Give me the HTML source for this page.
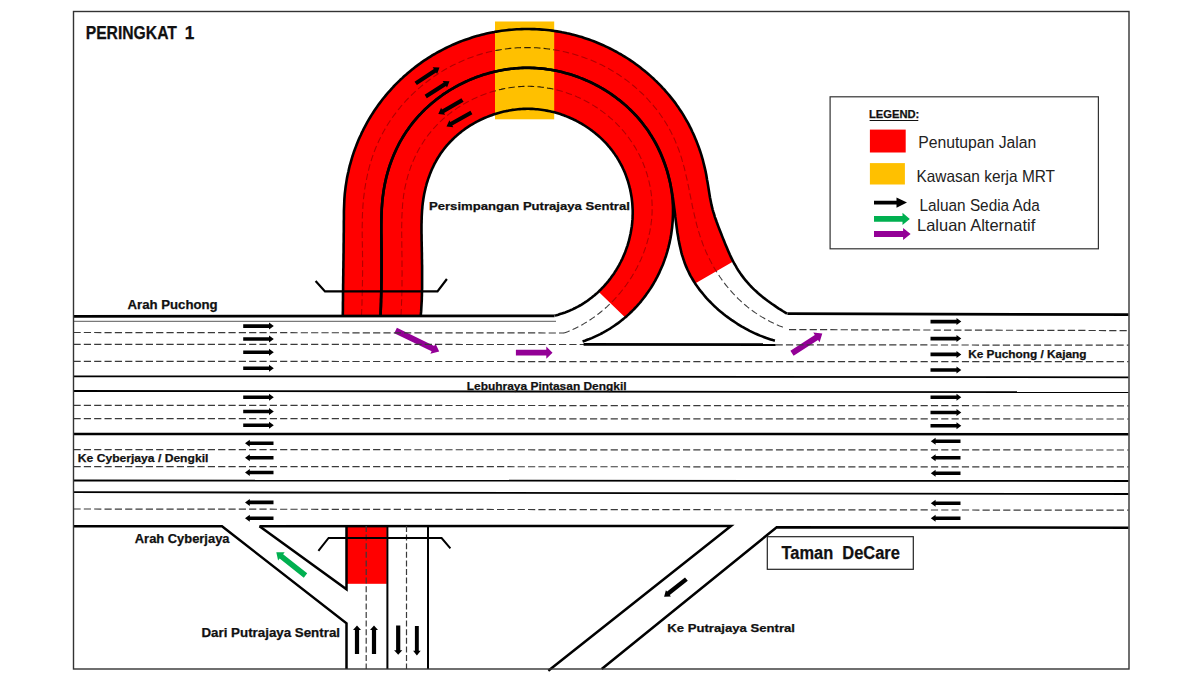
<!DOCTYPE html>
<html><head><meta charset="utf-8"><style>
html,body{margin:0;padding:0;background:#fff;overflow:hidden;width:1200px;height:675px;}
svg{display:block;font-family:"Liberation Sans",sans-serif;}
</style></head><body>
<svg width="1200" height="675" viewBox="0 0 1200 675">
<rect x="0" y="0" width="1200" height="675" fill="#fff"/>
<defs><clipPath id="rc"><path d="M342.8,315.5 L342.8,313 L342.9,310.4 L342.9,307.9 L342.9,305.3 L342.9,302.8 L343,300.3 L343,297.7 L343,295.2 L343,292.7 L343.1,290.1 L343.1,287.6 L343.1,285 L343.2,282.5 L343.2,280 L343.2,277.4 L343.3,274.9 L343.3,272.4 L343.3,269.8 L343.4,267.3 L343.4,264.7 L343.4,262.2 L343.5,259.7 L343.5,257.1 L343.5,254.6 L343.6,252.1 L343.6,249.5 L343.6,247 L343.6,244.4 L343.7,241.9 L343.7,239.4 L343.7,236.8 L343.7,234.3 L343.8,231.8 L343.8,229.2 L343.8,226.7 L343.8,224.1 L343.8,221.6 L343.9,219.1 L343.9,216.5 L343.9,214 L343.9,211.4 L344,208.9 L344.1,206.4 L344.2,203.8 L344.3,201.3 L344.4,198.8 L344.6,196.2 L344.8,193.7 L345.1,191.2 L345.4,188.7 L345.7,186.2 L346.1,183.6 L346.5,181.1 L346.9,178.6 L347.4,176.1 L347.9,173.7 L348.5,171.2 L349,168.7 L349.6,166.2 L350.3,163.8 L351,161.3 L351.7,158.9 L352.4,156.5 L353.2,154.1 L354,151.7 L354.9,149.3 L355.8,146.9 L356.7,144.5 L357.6,142.2 L358.6,139.8 L359.6,137.5 L360.7,135.2 L361.7,132.9 L362.9,130.6 L364,128.3 L365.2,126.1 L366.4,123.9 L367.6,121.6 L368.9,119.4 L370.2,117.3 L371.5,115.1 L372.9,113 L374.3,110.8 L375.7,108.7 L377.1,106.7 L378.6,104.6 L380.1,102.6 L381.7,100.5 L383.2,98.5 L384.8,96.6 L386.4,94.6 L388.1,92.7 L389.8,90.8 L391.5,88.9 L393.2,87 L394.9,85.2 L396.7,83.4 L398.5,81.6 L400.3,79.8 L402.2,78.1 L404.1,76.3 L406,74.7 L407.9,73 L409.8,71.4 L411.8,69.8 L413.8,68.2 L415.8,66.6 L417.8,65.1 L419.9,63.6 L421.9,62.1 L424,60.7 L426.1,59.3 L428.3,57.9 L430.4,56.6 L432.6,55.2 L434.8,54 L437,52.7 L439.2,51.5 L441.4,50.3 L443.7,49.1 L445.9,48 L448.2,46.9 L450.5,45.8 L452.8,44.7 L455.2,43.7 L457.5,42.8 L459.9,41.8 L462.2,40.9 L464.6,40 L467,39.2 L469.4,38.4 L471.8,37.6 L474.2,36.8 L476.7,36.1 L479.1,35.4 L481.6,34.8 L484,34.2 L486.5,33.6 L489,33 L491.5,32.5 L494,32.1 L496.5,31.6 L499,31.2 L501.5,30.8 L504,30.5 L506.5,30.2 L509,29.9 L511.6,29.7 L514.1,29.5 L516.6,29.3 L519.2,29.2 L521.7,29.1 L524.3,29 L526.8,29 L529.3,29 L531.9,29.1 L534.4,29.1 L536.9,29.2 L539.5,29.4 L542,29.6 L544.5,29.8 L547.1,30 L549.6,30.3 L552.1,30.6 L554.6,31 L557.1,31.4 L559.6,31.8 L562.1,32.3 L564.6,32.7 L567.1,33.3 L569.6,33.8 L572,34.4 L574.5,35.1 L577,35.7 L579.4,36.4 L581.8,37.1 L584.2,37.9 L586.6,38.7 L589,39.5 L591.4,40.4 L593.8,41.3 L596.2,42.2 L598.5,43.2 L600.8,44.2 L603.2,45.2 L605.5,46.3 L607.8,47.4 L610,48.5 L612.3,49.6 L614.5,50.8 L616.8,52 L619,53.3 L621.2,54.5 L623.3,55.8 L625.5,57.2 L627.7,58.5 L629.8,59.9 L631.9,61.3 L634,62.8 L636,64.3 L638.1,65.8 L640.1,67.3 L642.1,68.9 L644.1,70.5 L646,72.1 L648,73.7 L649.9,75.4 L651.8,77.1 L653.7,78.8 L655.5,80.6 L657.3,82.3 L659.1,84.1 L660.9,85.9 L662.6,87.8 L664.4,89.7 L666,91.6 L667.7,93.5 L669.3,95.4 L670.9,97.4 L672.5,99.4 L674.1,101.4 L675.6,103.4 L677,105.5 L678.5,107.6 L679.9,109.7 L681.3,111.8 L682.7,113.9 L684,116.1 L685.3,118.3 L686.5,120.5 L687.8,122.7 L689,124.9 L690.1,127.2 L691.3,129.4 L692.3,131.7 L693.4,134 L694.4,136.3 L695.4,138.7 L696.4,141 L697.3,143.4 L698.2,145.7 L699.1,148.1 L699.9,150.5 L700.7,152.9 L701.5,155.3 L702.2,157.8 L702.9,160.2 L703.5,162.7 L704.1,165.1 L704.7,167.6 L705.3,170.1 L705.8,172.5 L706.3,175 L706.7,177.5 L707.1,180 L707.6,182.5 L708,185 L708.4,187.5 L708.8,190 L709.2,192.5 L709.6,195 L710,197.5 L710.5,200 L711,202.5 L711.5,204.9 L712.1,207.4 L712.7,209.8 L713.4,212.2 L714.2,214.7 L714.9,217.1 L715.8,219.5 L716.6,221.8 L717.5,224.2 L718.4,226.6 L719.3,229 L720.2,231.3 L721.2,233.7 L722.1,236.1 L723,238.4 L724,240.8 L724.9,243.1 L725.9,245.5 L726.9,247.8 L727.9,250.2 L728.9,252.5 L729.9,254.8 L731,257.1 L732.1,259.3 L733.2,261.5 L695.1,283.4 L693.9,281.5 L692.7,279.5 L691.6,277.6 L690.4,275.6 L689.4,273.6 L688.4,271.5 L687.4,269.5 L686.5,267.4 L685.6,265.4 L684.8,263.3 L684.1,261.2 L683.4,259.1 L682.7,256.9 L682,254.8 L681.4,252.6 L680.9,250.5 L680.4,248.3 L679.9,246.1 L679.4,243.9 L679,241.7 L678.5,239.5 L678.2,237.2 L677.8,235 L677.4,232.7 L677.1,230.5 L676.8,228.2 L676.5,226 L676.2,223.7 L675.9,221.4 L675.6,219.2 L675.3,216.9 L675.1,214.6 L674.8,212.3 L674.5,210 L674.2,207.8 L673.9,205.5 L673.6,203.2 L673.3,200.9 L673,198.6 L672.6,196.4 L672.3,194.1 L671.9,191.8 L671.5,189.5 L671,187.3 L670.6,185 L670.1,182.8 L669.6,180.5 L669,178.3 L668.4,176 L667.8,173.8 L667.2,171.6 L666.5,169.4 L665.8,167.2 L665,165 L664.2,162.8 L663.4,160.7 L662.6,158.5 L661.7,156.4 L660.8,154.3 L659.9,152.2 L658.9,150.1 L657.9,148 L656.9,145.9 L655.8,143.9 L654.7,141.9 L653.6,139.9 L652.4,137.9 L651.2,135.9 L650,134 L648.8,132 L647.5,130.1 L646.2,128.2 L644.8,126.4 L643.5,124.5 L642.1,122.7 L640.6,120.9 L639.2,119.2 L637.7,117.4 L636.2,115.7 L634.6,114 L633,112.4 L631.4,110.7 L629.8,109.1 L628.1,107.6 L626.5,106 L624.7,104.5 L623,103 L621.2,101.5 L619.5,100.1 L617.6,98.7 L615.8,97.3 L614,96 L612.1,94.6 L610.2,93.3 L608.3,92.1 L606.3,90.8 L604.4,89.6 L602.4,88.5 L600.4,87.3 L598.4,86.2 L596.3,85.1 L594.3,84.1 L592.2,83 L590.1,82 L588.1,81.1 L585.9,80.2 L583.8,79.3 L581.7,78.4 L579.5,77.6 L577.4,76.8 L575.2,76 L573,75.3 L570.8,74.6 L568.6,73.9 L566.4,73.3 L564.1,72.7 L561.9,72.1 L559.7,71.6 L557.4,71.1 L555.2,70.6 L552.9,70.2 L550.6,69.8 L548.3,69.5 L546.1,69.1 L543.8,68.8 L541.5,68.6 L539.2,68.4 L536.9,68.2 L534.6,68.1 L532.3,68 L530,67.9 L527.7,67.9 L525.4,67.9 L523.1,67.9 L520.8,68 L518.5,68.1 L516.2,68.3 L513.9,68.5 L511.6,68.7 L509.4,69 L507.1,69.3 L504.8,69.6 L502.5,70 L500.3,70.4 L498,70.9 L495.8,71.4 L493.5,71.9 L491.3,72.4 L489.1,73 L486.8,73.7 L484.6,74.3 L482.4,75 L480.3,75.8 L478.1,76.5 L475.9,77.3 L473.8,78.2 L471.6,79 L469.5,79.9 L467.4,80.9 L465.3,81.8 L463.2,82.8 L461.2,83.8 L459.1,84.9 L457.1,86 L455.1,87.1 L453.1,88.3 L451.1,89.4 L449.1,90.6 L447.2,91.9 L445.2,93.1 L443.3,94.4 L441.5,95.8 L439.6,97.1 L437.8,98.5 L435.9,99.9 L434.1,101.4 L432.4,102.8 L430.6,104.3 L428.9,105.8 L427.2,107.4 L425.5,108.9 L423.9,110.5 L422.3,112.2 L420.7,113.8 L419.1,115.5 L417.6,117.2 L416.1,118.9 L414.6,120.7 L413.1,122.4 L411.7,124.2 L410.3,126 L408.9,127.9 L407.6,129.8 L406.3,131.6 L405.1,133.6 L403.8,135.5 L402.6,137.4 L401.5,139.4 L400.3,141.4 L399.2,143.4 L398.2,145.5 L397.2,147.5 L396.2,149.6 L395.2,151.7 L394.3,153.8 L393.4,155.9 L392.5,158 L391.7,160.2 L390.9,162.4 L390.1,164.5 L389.4,166.7 L388.7,168.9 L388,171.1 L387.4,173.4 L386.8,175.6 L386.2,177.8 L385.7,180.1 L385.2,182.3 L384.7,184.6 L384.3,186.8 L383.9,189.1 L383.5,191.4 L383.2,193.7 L382.9,195.9 L382.6,198.2 L382.4,200.5 L382.2,202.8 L382,205.1 L381.8,207.4 L381.7,209.7 L381.6,212 L381.5,214.3 L381.4,216.6 L381.4,218.9 L381.3,221.2 L381.3,223.5 L381.3,225.8 L381.3,228.1 L381.3,230.4 L381.3,232.7 L381.4,235 L381.4,237.3 L381.4,239.6 L381.5,241.9 L381.5,244.2 L381.5,246.5 L381.6,248.8 L381.6,251.1 L381.6,253.4 L381.6,255.7 L381.6,258 L381.6,260.3 L381.6,262.6 L381.6,264.9 L381.6,267.2 L381.6,269.5 L381.5,271.8 L381.5,274.1 L381.5,276.4 L381.5,278.7 L381.4,281 L381.4,283.3 L381.3,285.6 L381.3,287.9 L381.3,290.2 L381.2,292.5 L381.1,294.8 L381.1,297.1 L381,299.4 L381,301.7 L380.9,304 L380.9,306.3 L380.8,308.6 L380.7,310.9 L380.7,313.2 L380.6,315.5 Z"/><path d="M380.5,315.5 L380.6,313.2 L380.7,310.9 L380.8,308.7 L380.9,306.4 L381,304.1 L381.1,301.8 L381.1,299.5 L381.2,297.3 L381.3,295 L381.3,292.7 L381.3,290.4 L381.4,288.2 L381.4,285.9 L381.4,283.6 L381.5,281.3 L381.5,279.1 L381.5,276.8 L381.5,274.5 L381.5,272.2 L381.5,269.9 L381.5,267.7 L381.5,265.4 L381.5,263.1 L381.5,260.8 L381.5,258.5 L381.5,256.3 L381.5,254 L381.5,251.7 L381.4,249.4 L381.4,247.1 L381.4,244.9 L381.4,242.6 L381.4,240.3 L381.4,238 L381.3,235.7 L381.3,233.5 L381.3,231.2 L381.3,228.9 L381.3,226.6 L381.3,224.3 L381.4,222 L381.4,219.8 L381.5,217.5 L381.5,215.2 L381.6,212.9 L381.7,210.7 L381.8,208.4 L382,206.1 L382.1,203.8 L382.3,201.6 L382.5,199.3 L382.8,197.1 L383.1,194.8 L383.4,192.5 L383.7,190.3 L384.1,188 L384.5,185.8 L384.9,183.6 L385.4,181.3 L385.9,179.1 L386.4,176.9 L387,174.7 L387.6,172.5 L388.3,170.3 L388.9,168.1 L389.6,165.9 L390.4,163.8 L391.1,161.6 L391.9,159.5 L392.8,157.4 L393.6,155.3 L394.5,153.2 L395.5,151.1 L396.4,149 L397.4,147 L398.5,144.9 L399.5,142.9 L400.6,140.9 L401.8,138.9 L402.9,137 L404.1,135 L405.3,133.1 L406.6,131.2 L407.9,129.4 L409.2,127.5 L410.5,125.7 L411.9,123.9 L413.3,122.1 L414.7,120.3 L416.2,118.6 L417.7,116.9 L419.2,115.2 L420.8,113.6 L422.4,111.9 L424,110.3 L425.6,108.8 L427.3,107.2 L429,105.7 L430.7,104.2 L432.4,102.7 L434.2,101.3 L436,99.8 L437.8,98.4 L439.6,97.1 L441.4,95.7 L443.3,94.4 L445.2,93.2 L447.1,91.9 L449,90.7 L451,89.5 L452.9,88.3 L454.9,87.2 L456.9,86.1 L458.9,85 L461,84 L463,83 L465.1,82 L467.2,81 L469.3,80.1 L471.4,79.2 L473.5,78.4 L475.6,77.5 L477.8,76.7 L479.9,76 L482.1,75.2 L484.3,74.6 L486.5,73.9 L488.7,73.3 L490.9,72.7 L493.1,72.1 L495.3,71.6 L497.5,71.1 L499.8,70.6 L502,70.2 L504.3,69.8 L506.5,69.4 L508.8,69.1 L511,68.8 L513.3,68.6 L515.6,68.3 L517.8,68.2 L520.1,68 L522.4,67.9 L524.6,67.8 L526.9,67.8 L529.2,67.8 L531.5,67.9 L533.7,67.9 L536,68 L538.3,68.2 L540.5,68.4 L542.8,68.6 L545.1,68.9 L547.3,69.2 L549.6,69.5 L551.8,69.9 L554,70.3 L556.3,70.7 L558.5,71.2 L560.7,71.7 L562.9,72.3 L565.1,72.9 L567.3,73.5 L569.5,74.1 L571.7,74.8 L573.8,75.5 L576,76.3 L578.1,77 L580.3,77.9 L582.4,78.7 L584.5,79.6 L586.6,80.5 L588.6,81.4 L590.7,82.4 L592.8,83.4 L594.8,84.4 L596.8,85.5 L598.8,86.6 L600.8,87.7 L602.8,88.9 L604.7,90 L606.6,91.2 L608.6,92.5 L610.5,93.8 L612.3,95.1 L614.2,96.4 L616,97.7 L617.8,99.1 L619.6,100.5 L621.4,101.9 L623.2,103.4 L624.9,104.9 L626.6,106.4 L628.3,107.9 L629.9,109.5 L631.5,111.1 L633.2,112.7 L634.7,114.3 L636.3,116 L637.8,117.7 L639.3,119.4 L640.8,121.1 L642.2,122.9 L643.6,124.7 L645,126.5 L646.4,128.3 L647.7,130.1 L649,132 L650.2,133.9 L651.5,135.8 L652.7,137.8 L653.8,139.7 L655,141.7 L656.1,143.7 L657.1,145.7 L658.2,147.7 L659.2,149.8 L660.1,151.9 L661.1,154 L661.9,156.1 L662.8,158.2 L663.6,160.3 L664.4,162.5 L665.2,164.6 L665.9,166.8 L666.6,169 L667.3,171.2 L667.9,173.4 L668.5,175.6 L669,177.8 L669.5,180 L670,182.3 L670.5,184.5 L670.9,186.8 L671.2,189 L671.6,191.3 L671.9,193.6 L672.2,195.8 L672.4,198.1 L672.6,200.4 L672.7,202.7 L672.9,204.9 L673,207.2 L673,209.5 L673,211.8 L673,214 L672.9,216.3 L672.8,218.6 L672.7,220.8 L672.5,223.1 L672.3,225.3 L672.1,227.6 L671.8,229.8 L671.5,232.1 L671.2,234.3 L670.8,236.5 L670.4,238.8 L669.9,241 L669.5,243.2 L668.9,245.4 L668.4,247.6 L667.8,249.7 L667.2,251.9 L666.5,254.1 L665.9,256.2 L665.1,258.3 L664.4,260.4 L663.6,262.6 L662.8,264.7 L661.9,266.7 L661,268.8 L660.1,270.8 L659.2,272.9 L658.2,274.9 L657.2,276.9 L656.1,278.9 L655.1,280.9 L653.9,282.8 L652.8,284.8 L651.6,286.7 L650.4,288.6 L649.2,290.4 L647.9,292.3 L646.6,294.1 L645.3,295.9 L643.9,297.7 L642.5,299.5 L641.1,301.3 L639.7,303 L638.2,304.7 L636.7,306.4 L635.1,308 L633.6,309.6 L632,311.2 L630.3,312.8 L628.7,314.4 L627,315.9 L625.2,317.4 L598.6,291.7 L599.8,290.4 L601.1,289.2 L602.3,287.9 L603.6,286.6 L604.7,285.3 L605.9,284 L607.1,282.6 L608.2,281.3 L609.3,279.9 L610.4,278.5 L611.4,277.1 L612.5,275.6 L613.5,274.2 L614.5,272.7 L615.4,271.2 L616.4,269.7 L617.3,268.2 L618.2,266.6 L619.1,265.1 L619.9,263.5 L620.7,262 L621.5,260.4 L622.3,258.8 L623,257.2 L623.7,255.5 L624.4,253.9 L625.1,252.2 L625.7,250.6 L626.3,248.9 L626.9,247.2 L627.5,245.6 L628,243.9 L628.5,242.2 L629,240.4 L629.4,238.7 L629.8,237 L630.2,235.3 L630.6,233.5 L630.9,231.8 L631.2,230 L631.5,228.3 L631.8,226.5 L632,224.7 L632.2,223 L632.3,221.2 L632.5,219.4 L632.6,217.6 L632.6,215.9 L632.7,214.1 L632.7,212.3 L632.7,210.5 L632.6,208.7 L632.5,206.9 L632.4,205.1 L632.3,203.4 L632.1,201.6 L631.9,199.8 L631.7,198 L631.4,196.2 L631.1,194.5 L630.8,192.7 L630.4,190.9 L630.1,189.2 L629.6,187.4 L629.2,185.7 L628.7,184 L628.2,182.2 L627.7,180.5 L627.1,178.8 L626.5,177.1 L625.9,175.4 L625.3,173.8 L624.6,172.1 L623.9,170.5 L623.1,168.8 L622.4,167.2 L621.6,165.6 L620.7,164 L619.9,162.5 L619,160.9 L618.1,159.4 L617.2,157.8 L616.2,156.3 L615.2,154.9 L614.2,153.4 L613.2,152 L612.1,150.5 L611,149.1 L609.9,147.7 L608.7,146.4 L607.6,145 L606.4,143.7 L605.2,142.4 L603.9,141.1 L602.7,139.9 L601.4,138.6 L600.1,137.4 L598.8,136.2 L597.4,135 L596.1,133.9 L594.7,132.8 L593.3,131.7 L591.9,130.6 L590.4,129.5 L589,128.5 L587.5,127.5 L586,126.5 L584.5,125.5 L583,124.6 L581.5,123.7 L579.9,122.8 L578.3,121.9 L576.8,121.1 L575.2,120.2 L573.6,119.5 L572,118.7 L570.3,118 L568.7,117.3 L567,116.6 L565.4,115.9 L563.7,115.3 L562,114.7 L560.3,114.1 L558.6,113.6 L556.9,113.1 L555.2,112.6 L553.5,112.1 L551.7,111.7 L550,111.3 L548.2,110.9 L546.5,110.6 L544.7,110.3 L542.9,110 L541.2,109.7 L539.4,109.5 L537.6,109.3 L535.8,109.2 L534.1,109 L532.3,108.9 L530.5,108.9 L528.7,108.8 L526.9,108.8 L525.1,108.9 L523.3,108.9 L521.5,109 L519.8,109.1 L518,109.3 L516.2,109.5 L514.4,109.7 L512.6,109.9 L510.9,110.2 L509.1,110.5 L507.3,110.9 L505.6,111.2 L503.8,111.6 L502.1,112 L500.3,112.5 L498.6,113 L496.8,113.5 L495.1,114 L493.4,114.6 L491.7,115.2 L490,115.8 L488.3,116.4 L486.7,117.1 L485,117.8 L483.4,118.5 L481.7,119.3 L480.1,120 L478.5,120.8 L476.9,121.7 L475.3,122.5 L473.8,123.4 L472.2,124.3 L470.7,125.2 L469.2,126.2 L467.7,127.2 L466.2,128.2 L464.7,129.2 L463.3,130.3 L461.9,131.3 L460.5,132.4 L459.1,133.6 L457.7,134.7 L456.4,135.9 L455,137.1 L453.7,138.3 L452.5,139.5 L451.2,140.8 L450,142 L448.8,143.3 L447.6,144.7 L446.4,146 L445.3,147.4 L444.2,148.8 L443.1,150.2 L442.1,151.6 L441,153 L440,154.5 L439.1,156 L438.1,157.5 L437.2,159 L436.3,160.6 L435.5,162.1 L434.6,163.7 L433.8,165.3 L433.1,166.9 L432.3,168.5 L431.6,170.1 L430.9,171.7 L430.2,173.4 L429.6,175.1 L429,176.7 L428.4,178.4 L427.8,180.1 L427.3,181.8 L426.7,183.5 L426.3,185.3 L425.8,187 L425.4,188.7 L425,190.5 L424.6,192.2 L424.2,194 L423.9,195.8 L423.6,197.5 L423.3,199.3 L423.1,201.1 L422.8,202.8 L422.6,204.6 L422.4,206.4 L422.3,208.2 L422.1,210 L422,211.7 L421.9,213.5 L421.8,215.3 L421.7,217.1 L421.7,218.9 L421.6,220.7 L421.6,222.5 L421.5,224.3 L421.5,226.1 L421.5,227.9 L421.5,229.7 L421.5,231.5 L421.5,233.3 L421.6,235.1 L421.6,236.9 L421.6,238.7 L421.6,240.5 L421.7,242.3 L421.7,244.1 L421.7,245.8 L421.8,247.6 L421.8,249.4 L421.8,251.2 L421.9,253 L421.9,254.8 L421.9,256.6 L421.9,258.4 L422,260.1 L422,261.9 L422,263.7 L422.1,265.5 L422.1,267.3 L422.1,269.1 L422.1,270.9 L422.1,272.6 L422.1,274.4 L422.1,276.2 L422.1,278 L422.1,279.8 L422.1,281.5 L422.1,283.3 L422.1,285.1 L422.1,286.9 L422.1,288.7 L422,290.5 L422,292.2 L421.9,294 L421.9,295.8 L421.8,297.6 L421.8,299.4 L421.7,301.2 L421.6,303 L421.5,304.7 L421.4,306.5 L421.3,308.3 L421.2,310.1 L421.1,311.9 L420.9,313.7 L420.8,315.5 Z"/></clipPath><clipPath id="oc"><rect x="495" y="21.5" width="59.2" height="97.8"/></clipPath></defs>
<path d="M361.5,315.5 L361.6,313.1 L361.7,310.6 L361.8,308.2 L361.9,305.8 L362,303.4 L362,300.9 L362.1,298.5 L362.2,296.1 L362.2,293.7 L362.3,291.2 L362.3,288.8 L362.4,286.4 L362.4,283.9 L362.5,281.5 L362.5,279.1 L362.5,276.7 L362.6,274.2 L362.6,271.8 L362.6,269.4 L362.6,267 L362.6,264.5 L362.6,262.1 L362.6,259.7 L362.6,257.3 L362.5,254.8 L362.5,252.4 L362.5,250 L362.4,247.6 L362.4,245.1 L362.3,242.7 L362.3,240.3 L362.3,237.8 L362.2,235.4 L362.2,233 L362.2,230.6 L362.2,228.1 L362.2,225.7 L362.3,223.3 L362.3,220.9 L362.3,218.4 L362.4,216 L362.5,213.6 L362.6,211.2 L362.8,208.7 L362.9,206.3 L363.1,203.9 L363.3,201.5 L363.5,199 L363.8,196.6 L364.1,194.2 L364.4,191.8 L364.7,189.4 L365.1,187 L365.5,184.6 L365.9,182.2 L366.4,179.8 L366.9,177.4 L367.4,175 L367.9,172.7 L368.5,170.3 L369.1,167.9 L369.7,165.6 L370.4,163.3 L371.1,161 L371.8,158.6 L372.6,156.4 L373.4,154.1 L374.2,151.8 L375.1,149.5 L376,147.3 L376.9,145.1 L377.9,142.9 L378.9,140.7 L380,138.5 L381,136.3 L382.1,134.2 L383.3,132.1 L384.5,129.9 L385.7,127.9 L386.9,125.8 L388.2,123.7 L389.5,121.7 L390.9,119.7 L392.2,117.7 L393.7,115.7 L395.1,113.8 L396.6,111.9 L398.1,109.9 L399.6,108.1 L401.1,106.2 L402.7,104.4 L404.3,102.5 L406,100.7 L407.6,99 L409.3,97.2 L411.1,95.5 L412.8,93.8 L414.6,92.1 L416.4,90.5 L418.2,88.9 L420,87.3 L421.9,85.7 L423.8,84.2 L425.7,82.7 L427.6,81.2 L429.6,79.7 L431.5,78.3 L433.5,76.9 L435.5,75.5 L437.6,74.2 L439.6,72.8 L441.7,71.6 L443.8,70.3 L445.9,69.1 L448,67.9 L450.2,66.7 L452.3,65.6 L454.5,64.5 L456.7,63.4 L458.9,62.4 L461.1,61.4 L463.3,60.4 L465.6,59.5 L467.8,58.6 L470.1,57.7 L472.4,56.9 L474.7,56.1 L477,55.3 L479.3,54.6 L481.6,53.9 L483.9,53.2 L486.3,52.6 L488.6,52 L491,51.5 L493.3,51 L495.7,50.5 L498.1,50.1 L500.5,49.7 L502.9,49.3 L505.3,49 L507.7,48.7 L510.1,48.4 L512.5,48.2 L514.9,48 L517.3,47.8 L519.7,47.7 L522.1,47.6 L524.6,47.6 L527,47.6 L529.4,47.6 L531.8,47.6 L534.3,47.7 L536.7,47.8 L539.1,48 L541.5,48.2 L543.9,48.4 L546.3,48.7 L548.7,49 L551.1,49.3 L553.5,49.7 L555.9,50.1 L558.3,50.5 L560.7,51 L563.1,51.5 L565.4,52 L567.8,52.6 L570.1,53.2 L572.5,53.8 L574.8,54.5 L577.1,55.2 L579.4,55.9 L581.7,56.7 L584,57.5 L586.3,58.4 L588.6,59.2 L590.8,60.1 L593.1,61.1 L595.3,62 L597.5,63 L599.7,64.1 L601.9,65.1 L604.1,66.2 L606.2,67.4 L608.4,68.5 L610.5,69.7 L612.6,71 L614.7,72.2 L616.7,73.5 L618.8,74.8 L620.8,76.2 L622.8,77.6 L624.8,79 L626.7,80.4 L628.7,81.9 L630.6,83.4 L632.5,85 L634.4,86.5 L636.2,88.1 L638,89.7 L639.8,91.4 L641.6,93 L643.4,94.7 L645.1,96.5 L646.8,98.2 L648.4,100 L650,101.8 L651.6,103.6 L653.2,105.4 L654.8,107.3 L656.3,109.2 L657.7,111.1 L659.2,113 L660.6,115 L662,117 L663.3,119 L664.6,121 L665.9,123 L667.1,125.1 L668.3,127.1 L669.5,129.2 L670.6,131.3 L671.7,133.5 L672.8,135.6 L673.8,137.8 L674.8,139.9 L675.7,142.1 L676.6,144.3 L677.5,146.6 L678.4,148.8 L679.2,151 L680,153.3 L680.7,155.6 L681.5,157.9 L682.1,160.2 L682.8,162.5 L683.4,164.8 L684.1,167.2 L684.7,169.5 L685.2,171.9 L685.8,174.2 L686.3,176.6 L686.9,179 L687.4,181.3 L687.9,183.7 L688.4,186.1 L688.9,188.5 L689.3,190.9 L689.8,193.3 L690.3,195.7 L690.8,198.1 L691.3,200.5 L691.8,202.9 L692.2,205.3 L692.7,207.7 L693.3,210.1 L693.8,212.4 L694.3,214.8 L694.9,217.2 L695.4,219.6 L696,221.9 L696.6,224.3 L697.2,226.6 L697.9,229 L698.6,231.3 L699.3,233.6 L700,235.9 L700.8,238.2 L701.6,240.5 L702.4,242.8 L703.2,245.1 L704.1,247.3 L705.1,249.6 L706,251.8 L707,254 L708,256.2 L709.1,258.3 L710.2,260.5 L711.3,262.6 L712.4,264.7 L713.6,266.8 L714.8,268.9 L716.1,271 L717.4,273 L718.7,275 L720,277 L721.4,279 L722.8,281 L724.2,282.9 L725.7,284.8 L727.2,286.7 L728.7,288.5 L730.3,290.3 L731.9,292.1 L733.5,293.9 L735.2,295.7 L736.9,297.4 L738.6,299.1 L740.3,300.7 L742.1,302.4 L743.9,304 L745.8,305.5 L747.7,307.1 L749.6,308.6 L751.5,310 L753.5,311.5 L755.5,312.9 L757.5,314.2 L759.6,315.6 L761.7,316.9 L763.8,318.1 L766,319.4 L768.2,320.5 L770.4,321.7 L772.7,322.8 L775,323.9 L777.3,324.9 L779.6,325.9 L782,326.8 L784.4,327.8" fill="none" stroke="#404040" stroke-width="1.1" stroke-dasharray="6.5 3.2"/>
<path d="M400.9,315.5 L401.1,313.4 L401.2,311.4 L401.3,309.3 L401.4,307.3 L401.5,305.2 L401.5,303.1 L401.6,301.1 L401.7,299 L401.8,297 L401.8,294.9 L401.9,292.9 L401.9,290.8 L401.9,288.8 L402,286.7 L402,284.6 L402,282.6 L402,280.5 L402,278.5 L402,276.4 L402.1,274.4 L402.1,272.3 L402,270.3 L402,268.2 L402,266.2 L402,264.1 L402,262 L402,260 L402,257.9 L402,255.9 L401.9,253.8 L401.9,251.8 L401.9,249.7 L401.9,247.6 L401.8,245.6 L401.8,243.5 L401.8,241.5 L401.8,239.4 L401.8,237.3 L401.7,235.3 L401.7,233.2 L401.7,231.2 L401.7,229.1 L401.7,227 L401.7,225 L401.8,222.9 L401.8,220.8 L401.8,218.8 L401.9,216.7 L402,214.7 L402.1,212.6 L402.2,210.6 L402.3,208.5 L402.5,206.5 L402.6,204.4 L402.8,202.4 L403,200.3 L403.3,198.3 L403.5,196.2 L403.8,194.2 L404.2,192.2 L404.5,190.1 L404.9,188.1 L405.3,186.1 L405.8,184.1 L406.2,182.1 L406.7,180.1 L407.3,178.1 L407.8,176.1 L408.4,174.1 L409,172.2 L409.7,170.2 L410.3,168.3 L411,166.3 L411.8,164.4 L412.5,162.5 L413.3,160.6 L414.2,158.7 L415,156.9 L415.9,155 L416.8,153.2 L417.8,151.3 L418.7,149.5 L419.8,147.7 L420.8,146 L421.9,144.2 L423,142.5 L424.1,140.8 L425.2,139.1 L426.4,137.4 L427.6,135.8 L428.9,134.2 L430.2,132.6 L431.5,131 L432.8,129.4 L434.2,127.9 L435.6,126.4 L437,124.9 L438.4,123.5 L439.9,122 L441.4,120.6 L442.9,119.2 L444.4,117.9 L446,116.5 L447.6,115.2 L449.2,113.9 L450.8,112.7 L452.5,111.4 L454.1,110.2 L455.8,109.1 L457.5,107.9 L459.3,106.8 L461,105.7 L462.8,104.6 L464.6,103.6 L466.4,102.5 L468.2,101.6 L470,100.6 L471.9,99.7 L473.7,98.8 L475.6,97.9 L477.5,97.1 L479.4,96.3 L481.3,95.5 L483.2,94.7 L485.2,94 L487.1,93.3 L489.1,92.6 L491,92 L493,91.4 L495,90.9 L497,90.3 L499,89.8 L501,89.4 L503,88.9 L505,88.5 L507.1,88.2 L509.1,87.8 L511.1,87.5 L513.2,87.2 L515.2,87 L517.3,86.8 L519.3,86.6 L521.4,86.5 L523.4,86.4 L525.5,86.4 L527.5,86.3 L529.6,86.3 L531.6,86.4 L533.7,86.5 L535.7,86.6 L537.8,86.8 L539.8,86.9 L541.8,87.2 L543.9,87.4 L545.9,87.7 L547.9,88.1 L549.9,88.4 L551.9,88.8 L553.9,89.2 L555.9,89.7 L557.9,90.2 L559.9,90.7 L561.9,91.3 L563.8,91.9 L565.8,92.5 L567.7,93.2 L569.7,93.9 L571.6,94.6 L573.5,95.4 L575.4,96.1 L577.3,97 L579.2,97.8 L581,98.7 L582.9,99.6 L584.7,100.5 L586.6,101.5 L588.4,102.5 L590.1,103.5 L591.9,104.5 L593.7,105.6 L595.4,106.7 L597.1,107.8 L598.8,109 L600.5,110.2 L602.2,111.4 L603.8,112.6 L605.5,113.9 L607.1,115.2 L608.7,116.5 L610.2,117.8 L611.8,119.2 L613.3,120.6 L614.8,122 L616.3,123.4 L617.7,124.9 L619.2,126.3 L620.6,127.8 L621.9,129.4 L623.3,130.9 L624.6,132.5 L625.9,134.1 L627.2,135.7 L628.4,137.3 L629.6,139 L630.8,140.7 L632,142.4 L633.1,144.1 L634.2,145.9 L635.3,147.6 L636.3,149.4 L637.3,151.2 L638.3,153 L639.3,154.8 L640.2,156.7 L641.1,158.6 L641.9,160.4 L642.7,162.3 L643.5,164.2 L644.3,166.2 L645,168.1 L645.7,170 L646.3,172 L647,174 L647.5,175.9 L648.1,177.9 L648.6,179.9 L649.1,181.9 L649.5,183.9 L650,186 L650.3,188 L650.7,190 L651,192 L651.3,194.1 L651.5,196.1 L651.7,198.1 L651.9,200.2 L652,202.2 L652.1,204.3 L652.1,206.3 L652.1,208.4 L652.1,210.4 L652.1,212.4 L652,214.5 L651.8,216.5 L651.7,218.5 L651.5,220.6 L651.2,222.6 L651,224.6 L650.7,226.7 L650.3,228.7 L650,230.7 L649.6,232.7 L649.1,234.7 L648.7,236.7 L648.2,238.7 L647.6,240.6 L647.1,242.6 L646.5,244.6 L645.9,246.5 L645.2,248.5 L644.5,250.4 L643.8,252.4 L643.1,254.3 L642.3,256.2 L641.5,258.1 L640.7,260 L639.8,261.8 L638.9,263.7 L638,265.6 L637.1,267.4 L636.1,269.2 L635.1,271 L634.1,272.8 L633,274.6 L632,276.4 L630.9,278.1 L629.7,279.9 L628.6,281.6 L627.4,283.3 L626.2,285 L625,286.6 L623.7,288.3 L622.5,289.9 L621.2,291.5 L619.9,293.1 L618.5,294.7 L617.2,296.3 L615.8,297.8 L614.4,299.3 L613,300.8 L611.5,302.3 L610,303.7 L608.6,305.2 L607.1,306.6 L605.5,308 L604,309.3 L602.4,310.7 L600.8,312 L599.2,313.3 L597.6,314.5 L596,315.7 L594.3,317 L592.6,318.1 L591,319.3 L589.2,320.4 L587.5,321.5 L585.8,322.6 L584,323.6 L582.3,324.7 L580.5,325.6 L578.7,326.6 L576.9,327.5 L575,328.4 L573.2,329.3 L571.3,330.1 L569.4,330.9 L567.6,331.7 L565.7,332.4 L563.8,333.1" fill="none" stroke="#404040" stroke-width="1.1" stroke-dasharray="6.5 3.2"/>
<path d="M342.8,315.5 L342.8,313 L342.9,310.4 L342.9,307.9 L342.9,305.3 L342.9,302.8 L343,300.3 L343,297.7 L343,295.2 L343,292.7 L343.1,290.1 L343.1,287.6 L343.1,285 L343.2,282.5 L343.2,280 L343.2,277.4 L343.3,274.9 L343.3,272.4 L343.3,269.8 L343.4,267.3 L343.4,264.7 L343.4,262.2 L343.5,259.7 L343.5,257.1 L343.5,254.6 L343.6,252.1 L343.6,249.5 L343.6,247 L343.6,244.4 L343.7,241.9 L343.7,239.4 L343.7,236.8 L343.7,234.3 L343.8,231.8 L343.8,229.2 L343.8,226.7 L343.8,224.1 L343.8,221.6 L343.9,219.1 L343.9,216.5 L343.9,214 L343.9,211.4 L344,208.9 L344.1,206.4 L344.2,203.8 L344.3,201.3 L344.4,198.8 L344.6,196.2 L344.8,193.7 L345.1,191.2 L345.4,188.7 L345.7,186.2 L346.1,183.6 L346.5,181.1 L346.9,178.6 L347.4,176.1 L347.9,173.7 L348.5,171.2 L349,168.7 L349.6,166.2 L350.3,163.8 L351,161.3 L351.7,158.9 L352.4,156.5 L353.2,154.1 L354,151.7 L354.9,149.3 L355.8,146.9 L356.7,144.5 L357.6,142.2 L358.6,139.8 L359.6,137.5 L360.7,135.2 L361.7,132.9 L362.9,130.6 L364,128.3 L365.2,126.1 L366.4,123.9 L367.6,121.6 L368.9,119.4 L370.2,117.3 L371.5,115.1 L372.9,113 L374.3,110.8 L375.7,108.7 L377.1,106.7 L378.6,104.6 L380.1,102.6 L381.7,100.5 L383.2,98.5 L384.8,96.6 L386.4,94.6 L388.1,92.7 L389.8,90.8 L391.5,88.9 L393.2,87 L394.9,85.2 L396.7,83.4 L398.5,81.6 L400.3,79.8 L402.2,78.1 L404.1,76.3 L406,74.7 L407.9,73 L409.8,71.4 L411.8,69.8 L413.8,68.2 L415.8,66.6 L417.8,65.1 L419.9,63.6 L421.9,62.1 L424,60.7 L426.1,59.3 L428.3,57.9 L430.4,56.6 L432.6,55.2 L434.8,54 L437,52.7 L439.2,51.5 L441.4,50.3 L443.7,49.1 L445.9,48 L448.2,46.9 L450.5,45.8 L452.8,44.7 L455.2,43.7 L457.5,42.8 L459.9,41.8 L462.2,40.9 L464.6,40 L467,39.2 L469.4,38.4 L471.8,37.6 L474.2,36.8 L476.7,36.1 L479.1,35.4 L481.6,34.8 L484,34.2 L486.5,33.6 L489,33 L491.5,32.5 L494,32.1 L496.5,31.6 L499,31.2 L501.5,30.8 L504,30.5 L506.5,30.2 L509,29.9 L511.6,29.7 L514.1,29.5 L516.6,29.3 L519.2,29.2 L521.7,29.1 L524.3,29 L526.8,29 L529.3,29 L531.9,29.1 L534.4,29.1 L536.9,29.2 L539.5,29.4 L542,29.6 L544.5,29.8 L547.1,30 L549.6,30.3 L552.1,30.6 L554.6,31 L557.1,31.4 L559.6,31.8 L562.1,32.3 L564.6,32.7 L567.1,33.3 L569.6,33.8 L572,34.4 L574.5,35.1 L577,35.7 L579.4,36.4 L581.8,37.1 L584.2,37.9 L586.6,38.7 L589,39.5 L591.4,40.4 L593.8,41.3 L596.2,42.2 L598.5,43.2 L600.8,44.2 L603.2,45.2 L605.5,46.3 L607.8,47.4 L610,48.5 L612.3,49.6 L614.5,50.8 L616.8,52 L619,53.3 L621.2,54.5 L623.3,55.8 L625.5,57.2 L627.7,58.5 L629.8,59.9 L631.9,61.3 L634,62.8 L636,64.3 L638.1,65.8 L640.1,67.3 L642.1,68.9 L644.1,70.5 L646,72.1 L648,73.7 L649.9,75.4 L651.8,77.1 L653.7,78.8 L655.5,80.6 L657.3,82.3 L659.1,84.1 L660.9,85.9 L662.6,87.8 L664.4,89.7 L666,91.6 L667.7,93.5 L669.3,95.4 L670.9,97.4 L672.5,99.4 L674.1,101.4 L675.6,103.4 L677,105.5 L678.5,107.6 L679.9,109.7 L681.3,111.8 L682.7,113.9 L684,116.1 L685.3,118.3 L686.5,120.5 L687.8,122.7 L689,124.9 L690.1,127.2 L691.3,129.4 L692.3,131.7 L693.4,134 L694.4,136.3 L695.4,138.7 L696.4,141 L697.3,143.4 L698.2,145.7 L699.1,148.1 L699.9,150.5 L700.7,152.9 L701.5,155.3 L702.2,157.8 L702.9,160.2 L703.5,162.7 L704.1,165.1 L704.7,167.6 L705.3,170.1 L705.8,172.5 L706.3,175 L706.7,177.5 L707.1,180 L707.6,182.5 L708,185 L708.4,187.5 L708.8,190 L709.2,192.5 L709.6,195 L710,197.5 L710.5,200 L711,202.5 L711.5,204.9 L712.1,207.4 L712.7,209.8 L713.4,212.2 L714.2,214.7 L714.9,217.1 L715.8,219.5 L716.6,221.8 L717.5,224.2 L718.4,226.6 L719.3,229 L720.2,231.3 L721.2,233.7 L722.1,236.1 L723,238.4 L724,240.8 L724.9,243.1 L725.9,245.5 L726.9,247.8 L727.9,250.2 L728.9,252.5 L729.9,254.8 L731,257.1 L732.1,259.3 L733.2,261.5 L695.1,283.4 L693.9,281.5 L692.7,279.5 L691.6,277.6 L690.4,275.6 L689.4,273.6 L688.4,271.5 L687.4,269.5 L686.5,267.4 L685.6,265.4 L684.8,263.3 L684.1,261.2 L683.4,259.1 L682.7,256.9 L682,254.8 L681.4,252.6 L680.9,250.5 L680.4,248.3 L679.9,246.1 L679.4,243.9 L679,241.7 L678.5,239.5 L678.2,237.2 L677.8,235 L677.4,232.7 L677.1,230.5 L676.8,228.2 L676.5,226 L676.2,223.7 L675.9,221.4 L675.6,219.2 L675.3,216.9 L675.1,214.6 L674.8,212.3 L674.5,210 L674.2,207.8 L673.9,205.5 L673.6,203.2 L673.3,200.9 L673,198.6 L672.6,196.4 L672.3,194.1 L671.9,191.8 L671.5,189.5 L671,187.3 L670.6,185 L670.1,182.8 L669.6,180.5 L669,178.3 L668.4,176 L667.8,173.8 L667.2,171.6 L666.5,169.4 L665.8,167.2 L665,165 L664.2,162.8 L663.4,160.7 L662.6,158.5 L661.7,156.4 L660.8,154.3 L659.9,152.2 L658.9,150.1 L657.9,148 L656.9,145.9 L655.8,143.9 L654.7,141.9 L653.6,139.9 L652.4,137.9 L651.2,135.9 L650,134 L648.8,132 L647.5,130.1 L646.2,128.2 L644.8,126.4 L643.5,124.5 L642.1,122.7 L640.6,120.9 L639.2,119.2 L637.7,117.4 L636.2,115.7 L634.6,114 L633,112.4 L631.4,110.7 L629.8,109.1 L628.1,107.6 L626.5,106 L624.7,104.5 L623,103 L621.2,101.5 L619.5,100.1 L617.6,98.7 L615.8,97.3 L614,96 L612.1,94.6 L610.2,93.3 L608.3,92.1 L606.3,90.8 L604.4,89.6 L602.4,88.5 L600.4,87.3 L598.4,86.2 L596.3,85.1 L594.3,84.1 L592.2,83 L590.1,82 L588.1,81.1 L585.9,80.2 L583.8,79.3 L581.7,78.4 L579.5,77.6 L577.4,76.8 L575.2,76 L573,75.3 L570.8,74.6 L568.6,73.9 L566.4,73.3 L564.1,72.7 L561.9,72.1 L559.7,71.6 L557.4,71.1 L555.2,70.6 L552.9,70.2 L550.6,69.8 L548.3,69.5 L546.1,69.1 L543.8,68.8 L541.5,68.6 L539.2,68.4 L536.9,68.2 L534.6,68.1 L532.3,68 L530,67.9 L527.7,67.9 L525.4,67.9 L523.1,67.9 L520.8,68 L518.5,68.1 L516.2,68.3 L513.9,68.5 L511.6,68.7 L509.4,69 L507.1,69.3 L504.8,69.6 L502.5,70 L500.3,70.4 L498,70.9 L495.8,71.4 L493.5,71.9 L491.3,72.4 L489.1,73 L486.8,73.7 L484.6,74.3 L482.4,75 L480.3,75.8 L478.1,76.5 L475.9,77.3 L473.8,78.2 L471.6,79 L469.5,79.9 L467.4,80.9 L465.3,81.8 L463.2,82.8 L461.2,83.8 L459.1,84.9 L457.1,86 L455.1,87.1 L453.1,88.3 L451.1,89.4 L449.1,90.6 L447.2,91.9 L445.2,93.1 L443.3,94.4 L441.5,95.8 L439.6,97.1 L437.8,98.5 L435.9,99.9 L434.1,101.4 L432.4,102.8 L430.6,104.3 L428.9,105.8 L427.2,107.4 L425.5,108.9 L423.9,110.5 L422.3,112.2 L420.7,113.8 L419.1,115.5 L417.6,117.2 L416.1,118.9 L414.6,120.7 L413.1,122.4 L411.7,124.2 L410.3,126 L408.9,127.9 L407.6,129.8 L406.3,131.6 L405.1,133.6 L403.8,135.5 L402.6,137.4 L401.5,139.4 L400.3,141.4 L399.2,143.4 L398.2,145.5 L397.2,147.5 L396.2,149.6 L395.2,151.7 L394.3,153.8 L393.4,155.9 L392.5,158 L391.7,160.2 L390.9,162.4 L390.1,164.5 L389.4,166.7 L388.7,168.9 L388,171.1 L387.4,173.4 L386.8,175.6 L386.2,177.8 L385.7,180.1 L385.2,182.3 L384.7,184.6 L384.3,186.8 L383.9,189.1 L383.5,191.4 L383.2,193.7 L382.9,195.9 L382.6,198.2 L382.4,200.5 L382.2,202.8 L382,205.1 L381.8,207.4 L381.7,209.7 L381.6,212 L381.5,214.3 L381.4,216.6 L381.4,218.9 L381.3,221.2 L381.3,223.5 L381.3,225.8 L381.3,228.1 L381.3,230.4 L381.3,232.7 L381.4,235 L381.4,237.3 L381.4,239.6 L381.5,241.9 L381.5,244.2 L381.5,246.5 L381.6,248.8 L381.6,251.1 L381.6,253.4 L381.6,255.7 L381.6,258 L381.6,260.3 L381.6,262.6 L381.6,264.9 L381.6,267.2 L381.6,269.5 L381.5,271.8 L381.5,274.1 L381.5,276.4 L381.5,278.7 L381.4,281 L381.4,283.3 L381.3,285.6 L381.3,287.9 L381.3,290.2 L381.2,292.5 L381.1,294.8 L381.1,297.1 L381,299.4 L381,301.7 L380.9,304 L380.9,306.3 L380.8,308.6 L380.7,310.9 L380.7,313.2 L380.6,315.5 Z" fill="#ff0000"/>
<path d="M380.5,315.5 L380.6,313.2 L380.7,310.9 L380.8,308.7 L380.9,306.4 L381,304.1 L381.1,301.8 L381.1,299.5 L381.2,297.3 L381.3,295 L381.3,292.7 L381.3,290.4 L381.4,288.2 L381.4,285.9 L381.4,283.6 L381.5,281.3 L381.5,279.1 L381.5,276.8 L381.5,274.5 L381.5,272.2 L381.5,269.9 L381.5,267.7 L381.5,265.4 L381.5,263.1 L381.5,260.8 L381.5,258.5 L381.5,256.3 L381.5,254 L381.5,251.7 L381.4,249.4 L381.4,247.1 L381.4,244.9 L381.4,242.6 L381.4,240.3 L381.4,238 L381.3,235.7 L381.3,233.5 L381.3,231.2 L381.3,228.9 L381.3,226.6 L381.3,224.3 L381.4,222 L381.4,219.8 L381.5,217.5 L381.5,215.2 L381.6,212.9 L381.7,210.7 L381.8,208.4 L382,206.1 L382.1,203.8 L382.3,201.6 L382.5,199.3 L382.8,197.1 L383.1,194.8 L383.4,192.5 L383.7,190.3 L384.1,188 L384.5,185.8 L384.9,183.6 L385.4,181.3 L385.9,179.1 L386.4,176.9 L387,174.7 L387.6,172.5 L388.3,170.3 L388.9,168.1 L389.6,165.9 L390.4,163.8 L391.1,161.6 L391.9,159.5 L392.8,157.4 L393.6,155.3 L394.5,153.2 L395.5,151.1 L396.4,149 L397.4,147 L398.5,144.9 L399.5,142.9 L400.6,140.9 L401.8,138.9 L402.9,137 L404.1,135 L405.3,133.1 L406.6,131.2 L407.9,129.4 L409.2,127.5 L410.5,125.7 L411.9,123.9 L413.3,122.1 L414.7,120.3 L416.2,118.6 L417.7,116.9 L419.2,115.2 L420.8,113.6 L422.4,111.9 L424,110.3 L425.6,108.8 L427.3,107.2 L429,105.7 L430.7,104.2 L432.4,102.7 L434.2,101.3 L436,99.8 L437.8,98.4 L439.6,97.1 L441.4,95.7 L443.3,94.4 L445.2,93.2 L447.1,91.9 L449,90.7 L451,89.5 L452.9,88.3 L454.9,87.2 L456.9,86.1 L458.9,85 L461,84 L463,83 L465.1,82 L467.2,81 L469.3,80.1 L471.4,79.2 L473.5,78.4 L475.6,77.5 L477.8,76.7 L479.9,76 L482.1,75.2 L484.3,74.6 L486.5,73.9 L488.7,73.3 L490.9,72.7 L493.1,72.1 L495.3,71.6 L497.5,71.1 L499.8,70.6 L502,70.2 L504.3,69.8 L506.5,69.4 L508.8,69.1 L511,68.8 L513.3,68.6 L515.6,68.3 L517.8,68.2 L520.1,68 L522.4,67.9 L524.6,67.8 L526.9,67.8 L529.2,67.8 L531.5,67.9 L533.7,67.9 L536,68 L538.3,68.2 L540.5,68.4 L542.8,68.6 L545.1,68.9 L547.3,69.2 L549.6,69.5 L551.8,69.9 L554,70.3 L556.3,70.7 L558.5,71.2 L560.7,71.7 L562.9,72.3 L565.1,72.9 L567.3,73.5 L569.5,74.1 L571.7,74.8 L573.8,75.5 L576,76.3 L578.1,77 L580.3,77.9 L582.4,78.7 L584.5,79.6 L586.6,80.5 L588.6,81.4 L590.7,82.4 L592.8,83.4 L594.8,84.4 L596.8,85.5 L598.8,86.6 L600.8,87.7 L602.8,88.9 L604.7,90 L606.6,91.2 L608.6,92.5 L610.5,93.8 L612.3,95.1 L614.2,96.4 L616,97.7 L617.8,99.1 L619.6,100.5 L621.4,101.9 L623.2,103.4 L624.9,104.9 L626.6,106.4 L628.3,107.9 L629.9,109.5 L631.5,111.1 L633.2,112.7 L634.7,114.3 L636.3,116 L637.8,117.7 L639.3,119.4 L640.8,121.1 L642.2,122.9 L643.6,124.7 L645,126.5 L646.4,128.3 L647.7,130.1 L649,132 L650.2,133.9 L651.5,135.8 L652.7,137.8 L653.8,139.7 L655,141.7 L656.1,143.7 L657.1,145.7 L658.2,147.7 L659.2,149.8 L660.1,151.9 L661.1,154 L661.9,156.1 L662.8,158.2 L663.6,160.3 L664.4,162.5 L665.2,164.6 L665.9,166.8 L666.6,169 L667.3,171.2 L667.9,173.4 L668.5,175.6 L669,177.8 L669.5,180 L670,182.3 L670.5,184.5 L670.9,186.8 L671.2,189 L671.6,191.3 L671.9,193.6 L672.2,195.8 L672.4,198.1 L672.6,200.4 L672.7,202.7 L672.9,204.9 L673,207.2 L673,209.5 L673,211.8 L673,214 L672.9,216.3 L672.8,218.6 L672.7,220.8 L672.5,223.1 L672.3,225.3 L672.1,227.6 L671.8,229.8 L671.5,232.1 L671.2,234.3 L670.8,236.5 L670.4,238.8 L669.9,241 L669.5,243.2 L668.9,245.4 L668.4,247.6 L667.8,249.7 L667.2,251.9 L666.5,254.1 L665.9,256.2 L665.1,258.3 L664.4,260.4 L663.6,262.6 L662.8,264.7 L661.9,266.7 L661,268.8 L660.1,270.8 L659.2,272.9 L658.2,274.9 L657.2,276.9 L656.1,278.9 L655.1,280.9 L653.9,282.8 L652.8,284.8 L651.6,286.7 L650.4,288.6 L649.2,290.4 L647.9,292.3 L646.6,294.1 L645.3,295.9 L643.9,297.7 L642.5,299.5 L641.1,301.3 L639.7,303 L638.2,304.7 L636.7,306.4 L635.1,308 L633.6,309.6 L632,311.2 L630.3,312.8 L628.7,314.4 L627,315.9 L625.2,317.4 L598.6,291.7 L599.8,290.4 L601.1,289.2 L602.3,287.9 L603.6,286.6 L604.7,285.3 L605.9,284 L607.1,282.6 L608.2,281.3 L609.3,279.9 L610.4,278.5 L611.4,277.1 L612.5,275.6 L613.5,274.2 L614.5,272.7 L615.4,271.2 L616.4,269.7 L617.3,268.2 L618.2,266.6 L619.1,265.1 L619.9,263.5 L620.7,262 L621.5,260.4 L622.3,258.8 L623,257.2 L623.7,255.5 L624.4,253.9 L625.1,252.2 L625.7,250.6 L626.3,248.9 L626.9,247.2 L627.5,245.6 L628,243.9 L628.5,242.2 L629,240.4 L629.4,238.7 L629.8,237 L630.2,235.3 L630.6,233.5 L630.9,231.8 L631.2,230 L631.5,228.3 L631.8,226.5 L632,224.7 L632.2,223 L632.3,221.2 L632.5,219.4 L632.6,217.6 L632.6,215.9 L632.7,214.1 L632.7,212.3 L632.7,210.5 L632.6,208.7 L632.5,206.9 L632.4,205.1 L632.3,203.4 L632.1,201.6 L631.9,199.8 L631.7,198 L631.4,196.2 L631.1,194.5 L630.8,192.7 L630.4,190.9 L630.1,189.2 L629.6,187.4 L629.2,185.7 L628.7,184 L628.2,182.2 L627.7,180.5 L627.1,178.8 L626.5,177.1 L625.9,175.4 L625.3,173.8 L624.6,172.1 L623.9,170.5 L623.1,168.8 L622.4,167.2 L621.6,165.6 L620.7,164 L619.9,162.5 L619,160.9 L618.1,159.4 L617.2,157.8 L616.2,156.3 L615.2,154.9 L614.2,153.4 L613.2,152 L612.1,150.5 L611,149.1 L609.9,147.7 L608.7,146.4 L607.6,145 L606.4,143.7 L605.2,142.4 L603.9,141.1 L602.7,139.9 L601.4,138.6 L600.1,137.4 L598.8,136.2 L597.4,135 L596.1,133.9 L594.7,132.8 L593.3,131.7 L591.9,130.6 L590.4,129.5 L589,128.5 L587.5,127.5 L586,126.5 L584.5,125.5 L583,124.6 L581.5,123.7 L579.9,122.8 L578.3,121.9 L576.8,121.1 L575.2,120.2 L573.6,119.5 L572,118.7 L570.3,118 L568.7,117.3 L567,116.6 L565.4,115.9 L563.7,115.3 L562,114.7 L560.3,114.1 L558.6,113.6 L556.9,113.1 L555.2,112.6 L553.5,112.1 L551.7,111.7 L550,111.3 L548.2,110.9 L546.5,110.6 L544.7,110.3 L542.9,110 L541.2,109.7 L539.4,109.5 L537.6,109.3 L535.8,109.2 L534.1,109 L532.3,108.9 L530.5,108.9 L528.7,108.8 L526.9,108.8 L525.1,108.9 L523.3,108.9 L521.5,109 L519.8,109.1 L518,109.3 L516.2,109.5 L514.4,109.7 L512.6,109.9 L510.9,110.2 L509.1,110.5 L507.3,110.9 L505.6,111.2 L503.8,111.6 L502.1,112 L500.3,112.5 L498.6,113 L496.8,113.5 L495.1,114 L493.4,114.6 L491.7,115.2 L490,115.8 L488.3,116.4 L486.7,117.1 L485,117.8 L483.4,118.5 L481.7,119.3 L480.1,120 L478.5,120.8 L476.9,121.7 L475.3,122.5 L473.8,123.4 L472.2,124.3 L470.7,125.2 L469.2,126.2 L467.7,127.2 L466.2,128.2 L464.7,129.2 L463.3,130.3 L461.9,131.3 L460.5,132.4 L459.1,133.6 L457.7,134.7 L456.4,135.9 L455,137.1 L453.7,138.3 L452.5,139.5 L451.2,140.8 L450,142 L448.8,143.3 L447.6,144.7 L446.4,146 L445.3,147.4 L444.2,148.8 L443.1,150.2 L442.1,151.6 L441,153 L440,154.5 L439.1,156 L438.1,157.5 L437.2,159 L436.3,160.6 L435.5,162.1 L434.6,163.7 L433.8,165.3 L433.1,166.9 L432.3,168.5 L431.6,170.1 L430.9,171.7 L430.2,173.4 L429.6,175.1 L429,176.7 L428.4,178.4 L427.8,180.1 L427.3,181.8 L426.7,183.5 L426.3,185.3 L425.8,187 L425.4,188.7 L425,190.5 L424.6,192.2 L424.2,194 L423.9,195.8 L423.6,197.5 L423.3,199.3 L423.1,201.1 L422.8,202.8 L422.6,204.6 L422.4,206.4 L422.3,208.2 L422.1,210 L422,211.7 L421.9,213.5 L421.8,215.3 L421.7,217.1 L421.7,218.9 L421.6,220.7 L421.6,222.5 L421.5,224.3 L421.5,226.1 L421.5,227.9 L421.5,229.7 L421.5,231.5 L421.5,233.3 L421.6,235.1 L421.6,236.9 L421.6,238.7 L421.6,240.5 L421.7,242.3 L421.7,244.1 L421.7,245.8 L421.8,247.6 L421.8,249.4 L421.8,251.2 L421.9,253 L421.9,254.8 L421.9,256.6 L421.9,258.4 L422,260.1 L422,261.9 L422,263.7 L422.1,265.5 L422.1,267.3 L422.1,269.1 L422.1,270.9 L422.1,272.6 L422.1,274.4 L422.1,276.2 L422.1,278 L422.1,279.8 L422.1,281.5 L422.1,283.3 L422.1,285.1 L422.1,286.9 L422.1,288.7 L422,290.5 L422,292.2 L421.9,294 L421.9,295.8 L421.8,297.6 L421.8,299.4 L421.7,301.2 L421.6,303 L421.5,304.7 L421.4,306.5 L421.3,308.3 L421.2,310.1 L421.1,311.9 L420.9,313.7 L420.8,315.5 Z" fill="#ff0000"/>
<path d="M361.5,315.5 L361.6,313.1 L361.7,310.6 L361.8,308.2 L361.9,305.8 L362,303.4 L362,300.9 L362.1,298.5 L362.2,296.1 L362.2,293.7 L362.3,291.2 L362.3,288.8 L362.4,286.4 L362.4,283.9 L362.5,281.5 L362.5,279.1 L362.5,276.7 L362.6,274.2 L362.6,271.8 L362.6,269.4 L362.6,267 L362.6,264.5 L362.6,262.1 L362.6,259.7 L362.6,257.3 L362.5,254.8 L362.5,252.4 L362.5,250 L362.4,247.6 L362.4,245.1 L362.3,242.7 L362.3,240.3 L362.3,237.8 L362.2,235.4 L362.2,233 L362.2,230.6 L362.2,228.1 L362.2,225.7 L362.3,223.3 L362.3,220.9 L362.3,218.4 L362.4,216 L362.5,213.6 L362.6,211.2 L362.8,208.7 L362.9,206.3 L363.1,203.9 L363.3,201.5 L363.5,199 L363.8,196.6 L364.1,194.2 L364.4,191.8 L364.7,189.4 L365.1,187 L365.5,184.6 L365.9,182.2 L366.4,179.8 L366.9,177.4 L367.4,175 L367.9,172.7 L368.5,170.3 L369.1,167.9 L369.7,165.6 L370.4,163.3 L371.1,161 L371.8,158.6 L372.6,156.4 L373.4,154.1 L374.2,151.8 L375.1,149.5 L376,147.3 L376.9,145.1 L377.9,142.9 L378.9,140.7 L380,138.5 L381,136.3 L382.1,134.2 L383.3,132.1 L384.5,129.9 L385.7,127.9 L386.9,125.8 L388.2,123.7 L389.5,121.7 L390.9,119.7 L392.2,117.7 L393.7,115.7 L395.1,113.8 L396.6,111.9 L398.1,109.9 L399.6,108.1 L401.1,106.2 L402.7,104.4 L404.3,102.5 L406,100.7 L407.6,99 L409.3,97.2 L411.1,95.5 L412.8,93.8 L414.6,92.1 L416.4,90.5 L418.2,88.9 L420,87.3 L421.9,85.7 L423.8,84.2 L425.7,82.7 L427.6,81.2 L429.6,79.7 L431.5,78.3 L433.5,76.9 L435.5,75.5 L437.6,74.2 L439.6,72.8 L441.7,71.6 L443.8,70.3 L445.9,69.1 L448,67.9 L450.2,66.7 L452.3,65.6 L454.5,64.5 L456.7,63.4 L458.9,62.4 L461.1,61.4 L463.3,60.4 L465.6,59.5 L467.8,58.6 L470.1,57.7 L472.4,56.9 L474.7,56.1 L477,55.3 L479.3,54.6 L481.6,53.9 L483.9,53.2 L486.3,52.6 L488.6,52 L491,51.5 L493.3,51 L495.7,50.5 L498.1,50.1 L500.5,49.7 L502.9,49.3 L505.3,49 L507.7,48.7 L510.1,48.4 L512.5,48.2 L514.9,48 L517.3,47.8 L519.7,47.7 L522.1,47.6 L524.6,47.6 L527,47.6 L529.4,47.6 L531.8,47.6 L534.3,47.7 L536.7,47.8 L539.1,48 L541.5,48.2 L543.9,48.4 L546.3,48.7 L548.7,49 L551.1,49.3 L553.5,49.7 L555.9,50.1 L558.3,50.5 L560.7,51 L563.1,51.5 L565.4,52 L567.8,52.6 L570.1,53.2 L572.5,53.8 L574.8,54.5 L577.1,55.2 L579.4,55.9 L581.7,56.7 L584,57.5 L586.3,58.4 L588.6,59.2 L590.8,60.1 L593.1,61.1 L595.3,62 L597.5,63 L599.7,64.1 L601.9,65.1 L604.1,66.2 L606.2,67.4 L608.4,68.5 L610.5,69.7 L612.6,71 L614.7,72.2 L616.7,73.5 L618.8,74.8 L620.8,76.2 L622.8,77.6 L624.8,79 L626.7,80.4 L628.7,81.9 L630.6,83.4 L632.5,85 L634.4,86.5 L636.2,88.1 L638,89.7 L639.8,91.4 L641.6,93 L643.4,94.7 L645.1,96.5 L646.8,98.2 L648.4,100 L650,101.8 L651.6,103.6 L653.2,105.4 L654.8,107.3 L656.3,109.2 L657.7,111.1 L659.2,113 L660.6,115 L662,117 L663.3,119 L664.6,121 L665.9,123 L667.1,125.1 L668.3,127.1 L669.5,129.2 L670.6,131.3 L671.7,133.5 L672.8,135.6 L673.8,137.8 L674.8,139.9 L675.7,142.1 L676.6,144.3 L677.5,146.6 L678.4,148.8 L679.2,151 L680,153.3 L680.7,155.6 L681.5,157.9 L682.1,160.2 L682.8,162.5 L683.4,164.8 L684.1,167.2 L684.7,169.5 L685.2,171.9 L685.8,174.2 L686.3,176.6 L686.9,179 L687.4,181.3 L687.9,183.7 L688.4,186.1 L688.9,188.5 L689.3,190.9 L689.8,193.3 L690.3,195.7 L690.8,198.1 L691.3,200.5 L691.8,202.9 L692.2,205.3 L692.7,207.7 L693.3,210.1 L693.8,212.4 L694.3,214.8 L694.9,217.2 L695.4,219.6 L696,221.9 L696.6,224.3 L697.2,226.6 L697.9,229 L698.6,231.3 L699.3,233.6 L700,235.9 L700.8,238.2 L701.6,240.5 L702.4,242.8 L703.2,245.1 L704.1,247.3 L705.1,249.6 L706,251.8 L707,254 L708,256.2 L709.1,258.3 L710.2,260.5 L711.3,262.6 L712.4,264.7 L713.6,266.8 L714.8,268.9 L716.1,271 L717.4,273 L718.7,275 L720,277 L721.4,279 L722.8,281 L724.2,282.9 L725.7,284.8 L727.2,286.7 L728.7,288.5 L730.3,290.3 L731.9,292.1 L733.5,293.9 L735.2,295.7 L736.9,297.4 L738.6,299.1 L740.3,300.7 L742.1,302.4 L743.9,304 L745.8,305.5 L747.7,307.1 L749.6,308.6 L751.5,310 L753.5,311.5 L755.5,312.9 L757.5,314.2 L759.6,315.6 L761.7,316.9 L763.8,318.1 L766,319.4 L768.2,320.5 L770.4,321.7 L772.7,322.8 L775,323.9 L777.3,324.9 L779.6,325.9 L782,326.8 L784.4,327.8" fill="none" stroke="#b00000" stroke-width="1.1" stroke-dasharray="6.5 3.2" clip-path="url(#rc)"/>
<path d="M400.9,315.5 L401.1,313.4 L401.2,311.4 L401.3,309.3 L401.4,307.3 L401.5,305.2 L401.5,303.1 L401.6,301.1 L401.7,299 L401.8,297 L401.8,294.9 L401.9,292.9 L401.9,290.8 L401.9,288.8 L402,286.7 L402,284.6 L402,282.6 L402,280.5 L402,278.5 L402,276.4 L402.1,274.4 L402.1,272.3 L402,270.3 L402,268.2 L402,266.2 L402,264.1 L402,262 L402,260 L402,257.9 L402,255.9 L401.9,253.8 L401.9,251.8 L401.9,249.7 L401.9,247.6 L401.8,245.6 L401.8,243.5 L401.8,241.5 L401.8,239.4 L401.8,237.3 L401.7,235.3 L401.7,233.2 L401.7,231.2 L401.7,229.1 L401.7,227 L401.7,225 L401.8,222.9 L401.8,220.8 L401.8,218.8 L401.9,216.7 L402,214.7 L402.1,212.6 L402.2,210.6 L402.3,208.5 L402.5,206.5 L402.6,204.4 L402.8,202.4 L403,200.3 L403.3,198.3 L403.5,196.2 L403.8,194.2 L404.2,192.2 L404.5,190.1 L404.9,188.1 L405.3,186.1 L405.8,184.1 L406.2,182.1 L406.7,180.1 L407.3,178.1 L407.8,176.1 L408.4,174.1 L409,172.2 L409.7,170.2 L410.3,168.3 L411,166.3 L411.8,164.4 L412.5,162.5 L413.3,160.6 L414.2,158.7 L415,156.9 L415.9,155 L416.8,153.2 L417.8,151.3 L418.7,149.5 L419.8,147.7 L420.8,146 L421.9,144.2 L423,142.5 L424.1,140.8 L425.2,139.1 L426.4,137.4 L427.6,135.8 L428.9,134.2 L430.2,132.6 L431.5,131 L432.8,129.4 L434.2,127.9 L435.6,126.4 L437,124.9 L438.4,123.5 L439.9,122 L441.4,120.6 L442.9,119.2 L444.4,117.9 L446,116.5 L447.6,115.2 L449.2,113.9 L450.8,112.7 L452.5,111.4 L454.1,110.2 L455.8,109.1 L457.5,107.9 L459.3,106.8 L461,105.7 L462.8,104.6 L464.6,103.6 L466.4,102.5 L468.2,101.6 L470,100.6 L471.9,99.7 L473.7,98.8 L475.6,97.9 L477.5,97.1 L479.4,96.3 L481.3,95.5 L483.2,94.7 L485.2,94 L487.1,93.3 L489.1,92.6 L491,92 L493,91.4 L495,90.9 L497,90.3 L499,89.8 L501,89.4 L503,88.9 L505,88.5 L507.1,88.2 L509.1,87.8 L511.1,87.5 L513.2,87.2 L515.2,87 L517.3,86.8 L519.3,86.6 L521.4,86.5 L523.4,86.4 L525.5,86.4 L527.5,86.3 L529.6,86.3 L531.6,86.4 L533.7,86.5 L535.7,86.6 L537.8,86.8 L539.8,86.9 L541.8,87.2 L543.9,87.4 L545.9,87.7 L547.9,88.1 L549.9,88.4 L551.9,88.8 L553.9,89.2 L555.9,89.7 L557.9,90.2 L559.9,90.7 L561.9,91.3 L563.8,91.9 L565.8,92.5 L567.7,93.2 L569.7,93.9 L571.6,94.6 L573.5,95.4 L575.4,96.1 L577.3,97 L579.2,97.8 L581,98.7 L582.9,99.6 L584.7,100.5 L586.6,101.5 L588.4,102.5 L590.1,103.5 L591.9,104.5 L593.7,105.6 L595.4,106.7 L597.1,107.8 L598.8,109 L600.5,110.2 L602.2,111.4 L603.8,112.6 L605.5,113.9 L607.1,115.2 L608.7,116.5 L610.2,117.8 L611.8,119.2 L613.3,120.6 L614.8,122 L616.3,123.4 L617.7,124.9 L619.2,126.3 L620.6,127.8 L621.9,129.4 L623.3,130.9 L624.6,132.5 L625.9,134.1 L627.2,135.7 L628.4,137.3 L629.6,139 L630.8,140.7 L632,142.4 L633.1,144.1 L634.2,145.9 L635.3,147.6 L636.3,149.4 L637.3,151.2 L638.3,153 L639.3,154.8 L640.2,156.7 L641.1,158.6 L641.9,160.4 L642.7,162.3 L643.5,164.2 L644.3,166.2 L645,168.1 L645.7,170 L646.3,172 L647,174 L647.5,175.9 L648.1,177.9 L648.6,179.9 L649.1,181.9 L649.5,183.9 L650,186 L650.3,188 L650.7,190 L651,192 L651.3,194.1 L651.5,196.1 L651.7,198.1 L651.9,200.2 L652,202.2 L652.1,204.3 L652.1,206.3 L652.1,208.4 L652.1,210.4 L652.1,212.4 L652,214.5 L651.8,216.5 L651.7,218.5 L651.5,220.6 L651.2,222.6 L651,224.6 L650.7,226.7 L650.3,228.7 L650,230.7 L649.6,232.7 L649.1,234.7 L648.7,236.7 L648.2,238.7 L647.6,240.6 L647.1,242.6 L646.5,244.6 L645.9,246.5 L645.2,248.5 L644.5,250.4 L643.8,252.4 L643.1,254.3 L642.3,256.2 L641.5,258.1 L640.7,260 L639.8,261.8 L638.9,263.7 L638,265.6 L637.1,267.4 L636.1,269.2 L635.1,271 L634.1,272.8 L633,274.6 L632,276.4 L630.9,278.1 L629.7,279.9 L628.6,281.6 L627.4,283.3 L626.2,285 L625,286.6 L623.7,288.3 L622.5,289.9 L621.2,291.5 L619.9,293.1 L618.5,294.7 L617.2,296.3 L615.8,297.8 L614.4,299.3 L613,300.8 L611.5,302.3 L610,303.7 L608.6,305.2 L607.1,306.6 L605.5,308 L604,309.3 L602.4,310.7 L600.8,312 L599.2,313.3 L597.6,314.5 L596,315.7 L594.3,317 L592.6,318.1 L591,319.3 L589.2,320.4 L587.5,321.5 L585.8,322.6 L584,323.6 L582.3,324.7 L580.5,325.6 L578.7,326.6 L576.9,327.5 L575,328.4 L573.2,329.3 L571.3,330.1 L569.4,330.9 L567.6,331.7 L565.7,332.4 L563.8,333.1" fill="none" stroke="#b00000" stroke-width="1.1" stroke-dasharray="6.5 3.2" clip-path="url(#rc)"/>
<rect x="495" y="21.5" width="59.2" height="97.8" fill="#ffc000"/>
<path d="M361.5,315.5 L361.6,313.1 L361.7,310.6 L361.8,308.2 L361.9,305.8 L362,303.4 L362,300.9 L362.1,298.5 L362.2,296.1 L362.2,293.7 L362.3,291.2 L362.3,288.8 L362.4,286.4 L362.4,283.9 L362.5,281.5 L362.5,279.1 L362.5,276.7 L362.6,274.2 L362.6,271.8 L362.6,269.4 L362.6,267 L362.6,264.5 L362.6,262.1 L362.6,259.7 L362.6,257.3 L362.5,254.8 L362.5,252.4 L362.5,250 L362.4,247.6 L362.4,245.1 L362.3,242.7 L362.3,240.3 L362.3,237.8 L362.2,235.4 L362.2,233 L362.2,230.6 L362.2,228.1 L362.2,225.7 L362.3,223.3 L362.3,220.9 L362.3,218.4 L362.4,216 L362.5,213.6 L362.6,211.2 L362.8,208.7 L362.9,206.3 L363.1,203.9 L363.3,201.5 L363.5,199 L363.8,196.6 L364.1,194.2 L364.4,191.8 L364.7,189.4 L365.1,187 L365.5,184.6 L365.9,182.2 L366.4,179.8 L366.9,177.4 L367.4,175 L367.9,172.7 L368.5,170.3 L369.1,167.9 L369.7,165.6 L370.4,163.3 L371.1,161 L371.8,158.6 L372.6,156.4 L373.4,154.1 L374.2,151.8 L375.1,149.5 L376,147.3 L376.9,145.1 L377.9,142.9 L378.9,140.7 L380,138.5 L381,136.3 L382.1,134.2 L383.3,132.1 L384.5,129.9 L385.7,127.9 L386.9,125.8 L388.2,123.7 L389.5,121.7 L390.9,119.7 L392.2,117.7 L393.7,115.7 L395.1,113.8 L396.6,111.9 L398.1,109.9 L399.6,108.1 L401.1,106.2 L402.7,104.4 L404.3,102.5 L406,100.7 L407.6,99 L409.3,97.2 L411.1,95.5 L412.8,93.8 L414.6,92.1 L416.4,90.5 L418.2,88.9 L420,87.3 L421.9,85.7 L423.8,84.2 L425.7,82.7 L427.6,81.2 L429.6,79.7 L431.5,78.3 L433.5,76.9 L435.5,75.5 L437.6,74.2 L439.6,72.8 L441.7,71.6 L443.8,70.3 L445.9,69.1 L448,67.9 L450.2,66.7 L452.3,65.6 L454.5,64.5 L456.7,63.4 L458.9,62.4 L461.1,61.4 L463.3,60.4 L465.6,59.5 L467.8,58.6 L470.1,57.7 L472.4,56.9 L474.7,56.1 L477,55.3 L479.3,54.6 L481.6,53.9 L483.9,53.2 L486.3,52.6 L488.6,52 L491,51.5 L493.3,51 L495.7,50.5 L498.1,50.1 L500.5,49.7 L502.9,49.3 L505.3,49 L507.7,48.7 L510.1,48.4 L512.5,48.2 L514.9,48 L517.3,47.8 L519.7,47.7 L522.1,47.6 L524.6,47.6 L527,47.6 L529.4,47.6 L531.8,47.6 L534.3,47.7 L536.7,47.8 L539.1,48 L541.5,48.2 L543.9,48.4 L546.3,48.7 L548.7,49 L551.1,49.3 L553.5,49.7 L555.9,50.1 L558.3,50.5 L560.7,51 L563.1,51.5 L565.4,52 L567.8,52.6 L570.1,53.2 L572.5,53.8 L574.8,54.5 L577.1,55.2 L579.4,55.9 L581.7,56.7 L584,57.5 L586.3,58.4 L588.6,59.2 L590.8,60.1 L593.1,61.1 L595.3,62 L597.5,63 L599.7,64.1 L601.9,65.1 L604.1,66.2 L606.2,67.4 L608.4,68.5 L610.5,69.7 L612.6,71 L614.7,72.2 L616.7,73.5 L618.8,74.8 L620.8,76.2 L622.8,77.6 L624.8,79 L626.7,80.4 L628.7,81.9 L630.6,83.4 L632.5,85 L634.4,86.5 L636.2,88.1 L638,89.7 L639.8,91.4 L641.6,93 L643.4,94.7 L645.1,96.5 L646.8,98.2 L648.4,100 L650,101.8 L651.6,103.6 L653.2,105.4 L654.8,107.3 L656.3,109.2 L657.7,111.1 L659.2,113 L660.6,115 L662,117 L663.3,119 L664.6,121 L665.9,123 L667.1,125.1 L668.3,127.1 L669.5,129.2 L670.6,131.3 L671.7,133.5 L672.8,135.6 L673.8,137.8 L674.8,139.9 L675.7,142.1 L676.6,144.3 L677.5,146.6 L678.4,148.8 L679.2,151 L680,153.3 L680.7,155.6 L681.5,157.9 L682.1,160.2 L682.8,162.5 L683.4,164.8 L684.1,167.2 L684.7,169.5 L685.2,171.9 L685.8,174.2 L686.3,176.6 L686.9,179 L687.4,181.3 L687.9,183.7 L688.4,186.1 L688.9,188.5 L689.3,190.9 L689.8,193.3 L690.3,195.7 L690.8,198.1 L691.3,200.5 L691.8,202.9 L692.2,205.3 L692.7,207.7 L693.3,210.1 L693.8,212.4 L694.3,214.8 L694.9,217.2 L695.4,219.6 L696,221.9 L696.6,224.3 L697.2,226.6 L697.9,229 L698.6,231.3 L699.3,233.6 L700,235.9 L700.8,238.2 L701.6,240.5 L702.4,242.8 L703.2,245.1 L704.1,247.3 L705.1,249.6 L706,251.8 L707,254 L708,256.2 L709.1,258.3 L710.2,260.5 L711.3,262.6 L712.4,264.7 L713.6,266.8 L714.8,268.9 L716.1,271 L717.4,273 L718.7,275 L720,277 L721.4,279 L722.8,281 L724.2,282.9 L725.7,284.8 L727.2,286.7 L728.7,288.5 L730.3,290.3 L731.9,292.1 L733.5,293.9 L735.2,295.7 L736.9,297.4 L738.6,299.1 L740.3,300.7 L742.1,302.4 L743.9,304 L745.8,305.5 L747.7,307.1 L749.6,308.6 L751.5,310 L753.5,311.5 L755.5,312.9 L757.5,314.2 L759.6,315.6 L761.7,316.9 L763.8,318.1 L766,319.4 L768.2,320.5 L770.4,321.7 L772.7,322.8 L775,323.9 L777.3,324.9 L779.6,325.9 L782,326.8 L784.4,327.8" fill="none" stroke="#302000" stroke-width="1.1" stroke-dasharray="6.5 3.2" clip-path="url(#oc)"/>
<path d="M400.9,315.5 L401.1,313.4 L401.2,311.4 L401.3,309.3 L401.4,307.3 L401.5,305.2 L401.5,303.1 L401.6,301.1 L401.7,299 L401.8,297 L401.8,294.9 L401.9,292.9 L401.9,290.8 L401.9,288.8 L402,286.7 L402,284.6 L402,282.6 L402,280.5 L402,278.5 L402,276.4 L402.1,274.4 L402.1,272.3 L402,270.3 L402,268.2 L402,266.2 L402,264.1 L402,262 L402,260 L402,257.9 L402,255.9 L401.9,253.8 L401.9,251.8 L401.9,249.7 L401.9,247.6 L401.8,245.6 L401.8,243.5 L401.8,241.5 L401.8,239.4 L401.8,237.3 L401.7,235.3 L401.7,233.2 L401.7,231.2 L401.7,229.1 L401.7,227 L401.7,225 L401.8,222.9 L401.8,220.8 L401.8,218.8 L401.9,216.7 L402,214.7 L402.1,212.6 L402.2,210.6 L402.3,208.5 L402.5,206.5 L402.6,204.4 L402.8,202.4 L403,200.3 L403.3,198.3 L403.5,196.2 L403.8,194.2 L404.2,192.2 L404.5,190.1 L404.9,188.1 L405.3,186.1 L405.8,184.1 L406.2,182.1 L406.7,180.1 L407.3,178.1 L407.8,176.1 L408.4,174.1 L409,172.2 L409.7,170.2 L410.3,168.3 L411,166.3 L411.8,164.4 L412.5,162.5 L413.3,160.6 L414.2,158.7 L415,156.9 L415.9,155 L416.8,153.2 L417.8,151.3 L418.7,149.5 L419.8,147.7 L420.8,146 L421.9,144.2 L423,142.5 L424.1,140.8 L425.2,139.1 L426.4,137.4 L427.6,135.8 L428.9,134.2 L430.2,132.6 L431.5,131 L432.8,129.4 L434.2,127.9 L435.6,126.4 L437,124.9 L438.4,123.5 L439.9,122 L441.4,120.6 L442.9,119.2 L444.4,117.9 L446,116.5 L447.6,115.2 L449.2,113.9 L450.8,112.7 L452.5,111.4 L454.1,110.2 L455.8,109.1 L457.5,107.9 L459.3,106.8 L461,105.7 L462.8,104.6 L464.6,103.6 L466.4,102.5 L468.2,101.6 L470,100.6 L471.9,99.7 L473.7,98.8 L475.6,97.9 L477.5,97.1 L479.4,96.3 L481.3,95.5 L483.2,94.7 L485.2,94 L487.1,93.3 L489.1,92.6 L491,92 L493,91.4 L495,90.9 L497,90.3 L499,89.8 L501,89.4 L503,88.9 L505,88.5 L507.1,88.2 L509.1,87.8 L511.1,87.5 L513.2,87.2 L515.2,87 L517.3,86.8 L519.3,86.6 L521.4,86.5 L523.4,86.4 L525.5,86.4 L527.5,86.3 L529.6,86.3 L531.6,86.4 L533.7,86.5 L535.7,86.6 L537.8,86.8 L539.8,86.9 L541.8,87.2 L543.9,87.4 L545.9,87.7 L547.9,88.1 L549.9,88.4 L551.9,88.8 L553.9,89.2 L555.9,89.7 L557.9,90.2 L559.9,90.7 L561.9,91.3 L563.8,91.9 L565.8,92.5 L567.7,93.2 L569.7,93.9 L571.6,94.6 L573.5,95.4 L575.4,96.1 L577.3,97 L579.2,97.8 L581,98.7 L582.9,99.6 L584.7,100.5 L586.6,101.5 L588.4,102.5 L590.1,103.5 L591.9,104.5 L593.7,105.6 L595.4,106.7 L597.1,107.8 L598.8,109 L600.5,110.2 L602.2,111.4 L603.8,112.6 L605.5,113.9 L607.1,115.2 L608.7,116.5 L610.2,117.8 L611.8,119.2 L613.3,120.6 L614.8,122 L616.3,123.4 L617.7,124.9 L619.2,126.3 L620.6,127.8 L621.9,129.4 L623.3,130.9 L624.6,132.5 L625.9,134.1 L627.2,135.7 L628.4,137.3 L629.6,139 L630.8,140.7 L632,142.4 L633.1,144.1 L634.2,145.9 L635.3,147.6 L636.3,149.4 L637.3,151.2 L638.3,153 L639.3,154.8 L640.2,156.7 L641.1,158.6 L641.9,160.4 L642.7,162.3 L643.5,164.2 L644.3,166.2 L645,168.1 L645.7,170 L646.3,172 L647,174 L647.5,175.9 L648.1,177.9 L648.6,179.9 L649.1,181.9 L649.5,183.9 L650,186 L650.3,188 L650.7,190 L651,192 L651.3,194.1 L651.5,196.1 L651.7,198.1 L651.9,200.2 L652,202.2 L652.1,204.3 L652.1,206.3 L652.1,208.4 L652.1,210.4 L652.1,212.4 L652,214.5 L651.8,216.5 L651.7,218.5 L651.5,220.6 L651.2,222.6 L651,224.6 L650.7,226.7 L650.3,228.7 L650,230.7 L649.6,232.7 L649.1,234.7 L648.7,236.7 L648.2,238.7 L647.6,240.6 L647.1,242.6 L646.5,244.6 L645.9,246.5 L645.2,248.5 L644.5,250.4 L643.8,252.4 L643.1,254.3 L642.3,256.2 L641.5,258.1 L640.7,260 L639.8,261.8 L638.9,263.7 L638,265.6 L637.1,267.4 L636.1,269.2 L635.1,271 L634.1,272.8 L633,274.6 L632,276.4 L630.9,278.1 L629.7,279.9 L628.6,281.6 L627.4,283.3 L626.2,285 L625,286.6 L623.7,288.3 L622.5,289.9 L621.2,291.5 L619.9,293.1 L618.5,294.7 L617.2,296.3 L615.8,297.8 L614.4,299.3 L613,300.8 L611.5,302.3 L610,303.7 L608.6,305.2 L607.1,306.6 L605.5,308 L604,309.3 L602.4,310.7 L600.8,312 L599.2,313.3 L597.6,314.5 L596,315.7 L594.3,317 L592.6,318.1 L591,319.3 L589.2,320.4 L587.5,321.5 L585.8,322.6 L584,323.6 L582.3,324.7 L580.5,325.6 L578.7,326.6 L576.9,327.5 L575,328.4 L573.2,329.3 L571.3,330.1 L569.4,330.9 L567.6,331.7 L565.7,332.4 L563.8,333.1" fill="none" stroke="#302000" stroke-width="1.1" stroke-dasharray="6.5 3.2" clip-path="url(#oc)"/>
<rect x="346.8" y="526" width="40" height="57.8" fill="#ff0000"/>
<path d="M394.3,333.2 L431.6,351.3 L430.4,353.7 L439.2,351.6 L435.4,343.4 L434.2,345.9 L396.9,327.8 Z" fill="#930096"/>
<path d="M515.9,355.6 L546.3,355.6 L546.3,358.8 L552.5,352.7 L546.3,346.6 L546.3,349.8 L515.9,349.8 Z" fill="#930096"/>
<path d="M793.6,355.8 L818,339.9 L819.6,342.2 L822.3,333.6 L813.3,332.6 L814.8,334.9 L790.4,350.8 Z" fill="#930096"/>
<path d="M307.2,573.3 L283.1,554.2 L284.7,552.2 L276.3,552.3 L278.1,560.5 L279.6,558.5 L303.8,577.7 Z" fill="#00b050"/>
<path d="M73.5,316.3 L554.5,315.8" fill="none" stroke="#000" stroke-width="2.7" stroke-linejoin="round"/>
<path d="M787.4,313.7 L1128.5,314.6" fill="none" stroke="#000" stroke-width="2.7" stroke-linejoin="round"/>
<line x1="73.5" y1="321.3" x2="556" y2="321.3" stroke="#7a7a7a" stroke-width="1.3"/>
<line x1="73.5" y1="332.5" x2="564" y2="333" stroke="#3a3a3a" stroke-width="1.2" stroke-dasharray="7.2 3.13"/>
<line x1="789" y1="329.6" x2="1128.5" y2="330.6" stroke="#3a3a3a" stroke-width="1.2" stroke-dasharray="7.2 3.13"/>
<line x1="73.5" y1="344.4" x2="584" y2="344.5" stroke="#3a3a3a" stroke-width="1.2" stroke-dasharray="7.2 3.13"/>
<line x1="775.6" y1="344.8" x2="1128.5" y2="345.2" stroke="#3a3a3a" stroke-width="1.2" stroke-dasharray="7.2 3.13"/>
<line x1="73.5" y1="361.4" x2="1128.5" y2="361.7" stroke="#3a3a3a" stroke-width="1.2" stroke-dasharray="7.2 3.13"/>
<line x1="73.5" y1="376.3" x2="1128.5" y2="377.3" stroke="#000" stroke-width="1.8"/>
<line x1="73.5" y1="391" x2="1128.5" y2="392.2" stroke="#000" stroke-width="1.8"/>
<line x1="73.5" y1="405.3" x2="1128.5" y2="405.8" stroke="#3a3a3a" stroke-width="1.2" stroke-dasharray="7.2 3.13"/>
<line x1="73.5" y1="418.6" x2="1128.5" y2="419" stroke="#3a3a3a" stroke-width="1.2" stroke-dasharray="7.2 3.13"/>
<line x1="73.5" y1="433.9" x2="1128.5" y2="434.2" stroke="#000" stroke-width="2.5"/>
<line x1="73.5" y1="449.6" x2="1128.5" y2="450" stroke="#3a3a3a" stroke-width="1.2" stroke-dasharray="7.2 3.13"/>
<line x1="73.5" y1="466.6" x2="1128.5" y2="466.9" stroke="#3a3a3a" stroke-width="1.2" stroke-dasharray="7.2 3.13"/>
<line x1="73.5" y1="480.5" x2="1128.5" y2="481" stroke="#000" stroke-width="1.8"/>
<line x1="73.5" y1="492.2" x2="1128.5" y2="494" stroke="#000" stroke-width="1.8"/>
<line x1="73.5" y1="509" x2="1128.5" y2="510.2" stroke="#3a3a3a" stroke-width="1.2" stroke-dasharray="7.2 3.13"/>
<path d="M73.5,526.3 L222,526.3 L346.5,623.3 L346.5,669" fill="none" stroke="#000" stroke-width="2.5" stroke-linejoin="miter"/>
<path d="M259.5,526.2 L346.5,589.2 L346.5,526" fill="none" stroke="#000" stroke-width="2.5" stroke-linejoin="miter"/>
<path d="M259.5,526.2 L731,526 L548.3,670.8" fill="none" stroke="#000" stroke-width="2.5" stroke-linejoin="miter"/>
<path d="M601.7,669 L776.7,527.3 L1128.5,527.7" fill="none" stroke="#000" stroke-width="2.5" stroke-linejoin="miter"/>
<line x1="583.6" y1="344.4" x2="775.6" y2="344.6" stroke="#000" stroke-width="2.6"/>
<line x1="366.2" y1="526" x2="366.2" y2="669" stroke="#3a3a3a" stroke-width="1.2" stroke-dasharray="6 2.6"/>
<line x1="387.4" y1="526" x2="387.4" y2="669" stroke="#000" stroke-width="2.0"/>
<line x1="406.5" y1="526" x2="406.5" y2="669" stroke="#3a3a3a" stroke-width="1.2" stroke-dasharray="6 2.6"/>
<line x1="428" y1="526" x2="428" y2="669" stroke="#000" stroke-width="2.0"/>
<path d="M318.4,550.8 L328.6,538 L441.6,538 L450.4,548.3" fill="none" stroke="#000" stroke-width="2.0" stroke-linejoin="miter"/>
<path d="M315.6,281 L325,291.4 L437.5,291.4 L446.9,279" fill="none" stroke="#000" stroke-width="2.2" stroke-linejoin="miter"/>
<path d="M342.8,315.5 L342.8,313 L342.9,310.4 L342.9,307.9 L342.9,305.3 L342.9,302.8 L343,300.3 L343,297.7 L343,295.2 L343,292.7 L343.1,290.1 L343.1,287.6 L343.1,285 L343.2,282.5 L343.2,280 L343.2,277.4 L343.3,274.9 L343.3,272.4 L343.3,269.8 L343.4,267.3 L343.4,264.7 L343.4,262.2 L343.5,259.7 L343.5,257.1 L343.5,254.6 L343.6,252.1 L343.6,249.5 L343.6,247 L343.6,244.4 L343.7,241.9 L343.7,239.4 L343.7,236.8 L343.7,234.3 L343.8,231.8 L343.8,229.2 L343.8,226.7 L343.8,224.1 L343.8,221.6 L343.9,219.1 L343.9,216.5 L343.9,214 L343.9,211.4 L344,208.9 L344.1,206.4 L344.2,203.8 L344.3,201.3 L344.4,198.8 L344.6,196.2 L344.8,193.7 L345.1,191.2 L345.4,188.7 L345.7,186.2 L346.1,183.6 L346.5,181.1 L346.9,178.6 L347.4,176.1 L347.9,173.7 L348.5,171.2 L349,168.7 L349.6,166.2 L350.3,163.8 L351,161.3 L351.7,158.9 L352.4,156.5 L353.2,154.1 L354,151.7 L354.9,149.3 L355.8,146.9 L356.7,144.5 L357.6,142.2 L358.6,139.8 L359.6,137.5 L360.7,135.2 L361.7,132.9 L362.9,130.6 L364,128.3 L365.2,126.1 L366.4,123.9 L367.6,121.6 L368.9,119.4 L370.2,117.3 L371.5,115.1 L372.9,113 L374.3,110.8 L375.7,108.7 L377.1,106.7 L378.6,104.6 L380.1,102.6 L381.7,100.5 L383.2,98.5 L384.8,96.6 L386.4,94.6 L388.1,92.7 L389.8,90.8 L391.5,88.9 L393.2,87 L394.9,85.2 L396.7,83.4 L398.5,81.6 L400.3,79.8 L402.2,78.1 L404.1,76.3 L406,74.7 L407.9,73 L409.8,71.4 L411.8,69.8 L413.8,68.2 L415.8,66.6 L417.8,65.1 L419.9,63.6 L421.9,62.1 L424,60.7 L426.1,59.3 L428.3,57.9 L430.4,56.6 L432.6,55.2 L434.8,54 L437,52.7 L439.2,51.5 L441.4,50.3 L443.7,49.1 L445.9,48 L448.2,46.9 L450.5,45.8 L452.8,44.7 L455.2,43.7 L457.5,42.8 L459.9,41.8 L462.2,40.9 L464.6,40 L467,39.2 L469.4,38.4 L471.8,37.6 L474.2,36.8 L476.7,36.1 L479.1,35.4 L481.6,34.8 L484,34.2 L486.5,33.6 L489,33 L491.5,32.5 L494,32.1 L496.5,31.6 L499,31.2 L501.5,30.8 L504,30.5 L506.5,30.2 L509,29.9 L511.6,29.7 L514.1,29.5 L516.6,29.3 L519.2,29.2 L521.7,29.1 L524.3,29 L526.8,29 L529.3,29 L531.9,29.1 L534.4,29.1 L536.9,29.2 L539.5,29.4 L542,29.6 L544.5,29.8 L547.1,30 L549.6,30.3 L552.1,30.6 L554.6,31 L557.1,31.4 L559.6,31.8 L562.1,32.3 L564.6,32.7 L567.1,33.3 L569.6,33.8 L572,34.4 L574.5,35.1 L577,35.7 L579.4,36.4 L581.8,37.1 L584.2,37.9 L586.6,38.7 L589,39.5 L591.4,40.4 L593.8,41.3 L596.2,42.2 L598.5,43.2 L600.8,44.2 L603.2,45.2 L605.5,46.3 L607.8,47.4 L610,48.5 L612.3,49.6 L614.5,50.8 L616.8,52 L619,53.3 L621.2,54.5 L623.3,55.8 L625.5,57.2 L627.7,58.5 L629.8,59.9 L631.9,61.3 L634,62.8 L636,64.3 L638.1,65.8 L640.1,67.3 L642.1,68.9 L644.1,70.5 L646,72.1 L648,73.7 L649.9,75.4 L651.8,77.1 L653.7,78.8 L655.5,80.6 L657.3,82.3 L659.1,84.1 L660.9,85.9 L662.6,87.8 L664.4,89.7 L666,91.6 L667.7,93.5 L669.3,95.4 L670.9,97.4 L672.5,99.4 L674.1,101.4 L675.6,103.4 L677,105.5 L678.5,107.6 L679.9,109.7 L681.3,111.8 L682.7,113.9 L684,116.1 L685.3,118.3 L686.5,120.5 L687.8,122.7 L689,124.9 L690.1,127.2 L691.3,129.4 L692.3,131.7 L693.4,134 L694.4,136.3 L695.4,138.7 L696.4,141 L697.3,143.4 L698.2,145.7 L699.1,148.1 L699.9,150.5 L700.7,152.9 L701.5,155.3 L702.2,157.8 L702.9,160.2 L703.5,162.7 L704.1,165.1 L704.7,167.6 L705.3,170.1 L705.8,172.5 L706.3,175 L706.7,177.5 L707.1,180 L707.6,182.5 L708,185 L708.4,187.5 L708.8,190 L709.2,192.5 L709.6,195 L710,197.5 L710.5,200 L711,202.5 L711.5,204.9 L712.1,207.4 L712.7,209.8 L713.4,212.2 L714.2,214.7 L714.9,217.1 L715.8,219.5 L716.6,221.8 L717.5,224.2 L718.4,226.6 L719.3,229 L720.2,231.3 L721.2,233.7 L722.1,236.1 L723,238.4 L724,240.8 L724.9,243.1 L725.9,245.5 L726.9,247.8 L727.9,250.2 L728.9,252.5 L729.9,254.8 L731,257.1 L732.1,259.3 L733.2,261.5 L734.4,263.8 L735.7,265.9 L736.9,268.1 L738.2,270.2 L739.6,272.3 L741,274.4 L742.5,276.4 L744,278.4 L745.6,280.3 L747.2,282.2 L748.9,284.1 L750.6,286 L752.4,287.8 L754.2,289.6 L756.1,291.3 L757.9,293 L759.9,294.7 L761.8,296.3 L763.8,297.9 L765.9,299.5 L767.9,301 L770,302.5 L772.1,304 L774.2,305.4 L776.3,306.9 L778.4,308.3 L780.6,309.6 L782.7,311 L784.9,312.3 L787,313.6" fill="none" stroke="#000" stroke-width="2.6" stroke-linejoin="round"/>
<path d="M380.5,315.5 L380.6,313.2 L380.7,310.9 L380.8,308.7 L380.9,306.4 L381,304.1 L381.1,301.8 L381.1,299.5 L381.2,297.3 L381.3,295 L381.3,292.7 L381.3,290.4 L381.4,288.2 L381.4,285.9 L381.4,283.6 L381.5,281.3 L381.5,279.1 L381.5,276.8 L381.5,274.5 L381.5,272.2 L381.5,269.9 L381.5,267.7 L381.5,265.4 L381.5,263.1 L381.5,260.8 L381.5,258.5 L381.5,256.3 L381.5,254 L381.5,251.7 L381.4,249.4 L381.4,247.1 L381.4,244.9 L381.4,242.6 L381.4,240.3 L381.4,238 L381.3,235.7 L381.3,233.5 L381.3,231.2 L381.3,228.9 L381.3,226.6 L381.3,224.3 L381.4,222 L381.4,219.8 L381.5,217.5 L381.5,215.2 L381.6,212.9 L381.7,210.7 L381.8,208.4 L382,206.1 L382.1,203.8 L382.3,201.6 L382.5,199.3 L382.8,197.1 L383.1,194.8 L383.4,192.5 L383.7,190.3 L384.1,188 L384.5,185.8 L384.9,183.6 L385.4,181.3 L385.9,179.1 L386.4,176.9 L387,174.7 L387.6,172.5 L388.3,170.3 L388.9,168.1 L389.6,165.9 L390.4,163.8 L391.1,161.6 L391.9,159.5 L392.8,157.4 L393.6,155.3 L394.5,153.2 L395.5,151.1 L396.4,149 L397.4,147 L398.5,144.9 L399.5,142.9 L400.6,140.9 L401.8,138.9 L402.9,137 L404.1,135 L405.3,133.1 L406.6,131.2 L407.9,129.4 L409.2,127.5 L410.5,125.7 L411.9,123.9 L413.3,122.1 L414.7,120.3 L416.2,118.6 L417.7,116.9 L419.2,115.2 L420.8,113.6 L422.4,111.9 L424,110.3 L425.6,108.8 L427.3,107.2 L429,105.7 L430.7,104.2 L432.4,102.7 L434.2,101.3 L436,99.8 L437.8,98.4 L439.6,97.1 L441.4,95.7 L443.3,94.4 L445.2,93.2 L447.1,91.9 L449,90.7 L451,89.5 L452.9,88.3 L454.9,87.2 L456.9,86.1 L458.9,85 L461,84 L463,83 L465.1,82 L467.2,81 L469.3,80.1 L471.4,79.2 L473.5,78.4 L475.6,77.5 L477.8,76.7 L479.9,76 L482.1,75.2 L484.3,74.6 L486.5,73.9 L488.7,73.3 L490.9,72.7 L493.1,72.1 L495.3,71.6 L497.5,71.1 L499.8,70.6 L502,70.2 L504.3,69.8 L506.5,69.4 L508.8,69.1 L511,68.8 L513.3,68.6 L515.6,68.3 L517.8,68.2 L520.1,68 L522.4,67.9 L524.6,67.8 L526.9,67.8 L529.2,67.8 L531.5,67.9 L533.7,67.9 L536,68 L538.3,68.2 L540.5,68.4 L542.8,68.6 L545.1,68.9 L547.3,69.2 L549.6,69.5 L551.8,69.9 L554,70.3 L556.3,70.7 L558.5,71.2 L560.7,71.7 L562.9,72.3 L565.1,72.9 L567.3,73.5 L569.5,74.1 L571.7,74.8 L573.8,75.5 L576,76.3 L578.1,77 L580.3,77.9 L582.4,78.7 L584.5,79.6 L586.6,80.5 L588.6,81.4 L590.7,82.4 L592.8,83.4 L594.8,84.4 L596.8,85.5 L598.8,86.6 L600.8,87.7 L602.8,88.9 L604.7,90 L606.6,91.2 L608.6,92.5 L610.5,93.8 L612.3,95.1 L614.2,96.4 L616,97.7 L617.8,99.1 L619.6,100.5 L621.4,101.9 L623.2,103.4 L624.9,104.9 L626.6,106.4 L628.3,107.9 L629.9,109.5 L631.5,111.1 L633.2,112.7 L634.7,114.3 L636.3,116 L637.8,117.7 L639.3,119.4 L640.8,121.1 L642.2,122.9 L643.6,124.7 L645,126.5 L646.4,128.3 L647.7,130.1 L649,132 L650.2,133.9 L651.5,135.8 L652.7,137.8 L653.8,139.7 L655,141.7 L656.1,143.7 L657.1,145.7 L658.2,147.7 L659.2,149.8 L660.1,151.9 L661.1,154 L661.9,156.1 L662.8,158.2 L663.6,160.3 L664.4,162.5 L665.2,164.6 L665.9,166.8 L666.6,169 L667.3,171.2 L667.9,173.4 L668.5,175.6 L669,177.8 L669.5,180 L670,182.3 L670.5,184.5 L670.9,186.8 L671.2,189 L671.6,191.3 L671.9,193.6 L672.2,195.8 L672.4,198.1 L672.6,200.4 L672.7,202.7 L672.9,204.9 L673,207.2 L673,209.5 L673,211.8 L673,214 L672.9,216.3 L672.8,218.6 L672.7,220.8 L672.5,223.1 L672.3,225.3 L672.1,227.6 L671.8,229.8 L671.5,232.1 L671.2,234.3 L670.8,236.5 L670.4,238.8 L669.9,241 L669.5,243.2 L668.9,245.4 L668.4,247.6 L667.8,249.7 L667.2,251.9 L666.5,254.1 L665.9,256.2 L665.1,258.3 L664.4,260.4 L663.6,262.6 L662.8,264.7 L661.9,266.7 L661,268.8 L660.1,270.8 L659.2,272.9 L658.2,274.9 L657.2,276.9 L656.1,278.9 L655.1,280.9 L653.9,282.8 L652.8,284.8 L651.6,286.7 L650.4,288.6 L649.2,290.4 L647.9,292.3 L646.6,294.1 L645.3,295.9 L643.9,297.7 L642.5,299.5 L641.1,301.3 L639.7,303 L638.2,304.7 L636.7,306.4 L635.1,308 L633.6,309.6 L632,311.2 L630.3,312.8 L628.7,314.4 L627,315.9 L625.2,317.4 L623.5,318.9 L621.7,320.3 L619.9,321.7 L618.1,323.1 L616.2,324.4 L614.3,325.7 L612.4,327 L610.5,328.3 L608.5,329.5 L606.5,330.7 L604.4,331.8 L602.4,333 L600.3,334.1 L598.2,335.1 L596,336.1 L593.9,337.1 L591.7,338.1 L589.4,339 L587.2,339.8 L584.9,340.7 L582.6,341.5" fill="none" stroke="#000" stroke-width="2.6" stroke-linejoin="round"/>
<path d="M380.6,315.5 L380.7,313.2 L380.7,310.9 L380.8,308.6 L380.9,306.3 L380.9,304 L381,301.7 L381,299.4 L381.1,297.1 L381.1,294.8 L381.2,292.5 L381.3,290.2 L381.3,287.9 L381.3,285.6 L381.4,283.3 L381.4,281 L381.5,278.7 L381.5,276.4 L381.5,274.1 L381.5,271.8 L381.6,269.5 L381.6,267.2 L381.6,264.9 L381.6,262.6 L381.6,260.3 L381.6,258 L381.6,255.7 L381.6,253.4 L381.6,251.1 L381.6,248.8 L381.5,246.5 L381.5,244.2 L381.5,241.9 L381.4,239.6 L381.4,237.3 L381.4,235 L381.3,232.7 L381.3,230.4 L381.3,228.1 L381.3,225.8 L381.3,223.5 L381.3,221.2 L381.4,218.9 L381.4,216.6 L381.5,214.3 L381.6,212 L381.7,209.7 L381.8,207.4 L382,205.1 L382.2,202.8 L382.4,200.5 L382.6,198.2 L382.9,195.9 L383.2,193.7 L383.5,191.4 L383.9,189.1 L384.3,186.8 L384.7,184.6 L385.2,182.3 L385.7,180.1 L386.2,177.8 L386.8,175.6 L387.4,173.4 L388,171.1 L388.7,168.9 L389.4,166.7 L390.1,164.5 L390.9,162.4 L391.7,160.2 L392.5,158 L393.4,155.9 L394.3,153.8 L395.2,151.7 L396.2,149.6 L397.2,147.5 L398.2,145.5 L399.2,143.4 L400.3,141.4 L401.5,139.4 L402.6,137.4 L403.8,135.5 L405.1,133.6 L406.3,131.6 L407.6,129.8 L408.9,127.9 L410.3,126 L411.7,124.2 L413.1,122.4 L414.6,120.7 L416.1,118.9 L417.6,117.2 L419.1,115.5 L420.7,113.8 L422.3,112.2 L423.9,110.5 L425.5,108.9 L427.2,107.4 L428.9,105.8 L430.6,104.3 L432.4,102.8 L434.1,101.4 L435.9,99.9 L437.8,98.5 L439.6,97.1 L441.5,95.8 L443.3,94.4 L445.2,93.1 L447.2,91.9 L449.1,90.6 L451.1,89.4 L453.1,88.3 L455.1,87.1 L457.1,86 L459.1,84.9 L461.2,83.8 L463.2,82.8 L465.3,81.8 L467.4,80.9 L469.5,79.9 L471.6,79 L473.8,78.2 L475.9,77.3 L478.1,76.5 L480.3,75.8 L482.4,75 L484.6,74.3 L486.8,73.7 L489.1,73 L491.3,72.4 L493.5,71.9 L495.8,71.4 L498,70.9 L500.3,70.4 L502.5,70 L504.8,69.6 L507.1,69.3 L509.4,69 L511.6,68.7 L513.9,68.5 L516.2,68.3 L518.5,68.1 L520.8,68 L523.1,67.9 L525.4,67.9 L527.7,67.9 L530,67.9 L532.3,68 L534.6,68.1 L536.9,68.2 L539.2,68.4 L541.5,68.6 L543.8,68.8 L546.1,69.1 L548.3,69.5 L550.6,69.8 L552.9,70.2 L555.2,70.6 L557.4,71.1 L559.7,71.6 L561.9,72.1 L564.1,72.7 L566.4,73.3 L568.6,73.9 L570.8,74.6 L573,75.3 L575.2,76 L577.4,76.8 L579.5,77.6 L581.7,78.4 L583.8,79.3 L585.9,80.2 L588.1,81.1 L590.1,82 L592.2,83 L594.3,84.1 L596.3,85.1 L598.4,86.2 L600.4,87.3 L602.4,88.5 L604.4,89.6 L606.3,90.8 L608.3,92.1 L610.2,93.3 L612.1,94.6 L614,96 L615.8,97.3 L617.6,98.7 L619.5,100.1 L621.2,101.5 L623,103 L624.7,104.5 L626.5,106 L628.1,107.6 L629.8,109.1 L631.4,110.7 L633,112.4 L634.6,114 L636.2,115.7 L637.7,117.4 L639.2,119.2 L640.6,120.9 L642.1,122.7 L643.5,124.5 L644.8,126.4 L646.2,128.2 L647.5,130.1 L648.8,132 L650,134 L651.2,135.9 L652.4,137.9 L653.6,139.9 L654.7,141.9 L655.8,143.9 L656.9,145.9 L657.9,148 L658.9,150.1 L659.9,152.2 L660.8,154.3 L661.7,156.4 L662.6,158.5 L663.4,160.7 L664.2,162.8 L665,165 L665.8,167.2 L666.5,169.4 L667.2,171.6 L667.8,173.8 L668.4,176 L669,178.3 L669.6,180.5 L670.1,182.8 L670.6,185 L671,187.3 L671.5,189.5 L671.9,191.8 L672.3,194.1 L672.6,196.4 L673,198.6 L673.3,200.9 L673.6,203.2 L673.9,205.5 L674.2,207.8 L674.5,210 L674.8,212.3 L675.1,214.6 L675.3,216.9 L675.6,219.2 L675.9,221.4 L676.2,223.7 L676.5,226 L676.8,228.2 L677.1,230.5 L677.4,232.7 L677.8,235 L678.2,237.2 L678.5,239.5 L679,241.7 L679.4,243.9 L679.9,246.1 L680.4,248.3 L680.9,250.5 L681.4,252.6 L682,254.8 L682.7,256.9 L683.4,259.1 L684.1,261.2 L684.8,263.3 L685.6,265.4 L686.5,267.4 L687.4,269.5 L688.4,271.5 L689.4,273.6 L690.4,275.6 L691.6,277.6 L692.7,279.5 L693.9,281.5 L695.1,283.4 L696.4,285.3 L697.8,287.2 L699.1,289.1 L700.5,290.9 L702,292.7 L703.5,294.5 L705,296.3 L706.5,298.1 L708.1,299.8 L709.8,301.5 L711.4,303.2 L713.1,304.9 L714.8,306.5 L716.6,308.1 L718.3,309.7 L720.1,311.2 L722,312.7 L723.8,314.2 L725.7,315.7 L727.6,317.1 L729.5,318.5 L731.4,319.9 L733.4,321.2 L735.4,322.5 L737.3,323.8 L739.4,325.1 L741.4,326.3 L743.4,327.4 L745.5,328.6 L747.5,329.7 L749.6,330.8 L751.7,331.8 L753.8,332.8 L755.9,333.8 L758,334.7 L760.1,335.6 L762.2,336.4 L764.3,337.2 L766.4,338 L768.5,338.7 L770.6,339.4 L772.8,340.1 L774.9,340.7" fill="none" stroke="#000" stroke-width="2.6" stroke-linejoin="round"/>
<path d="M420.8,315.5 L420.9,313.7 L421.1,311.9 L421.2,310.1 L421.3,308.3 L421.4,306.5 L421.5,304.7 L421.6,303 L421.7,301.2 L421.8,299.4 L421.8,297.6 L421.9,295.8 L421.9,294 L422,292.2 L422,290.5 L422.1,288.7 L422.1,286.9 L422.1,285.1 L422.1,283.3 L422.1,281.5 L422.1,279.8 L422.1,278 L422.1,276.2 L422.1,274.4 L422.1,272.6 L422.1,270.9 L422.1,269.1 L422.1,267.3 L422.1,265.5 L422,263.7 L422,261.9 L422,260.1 L421.9,258.4 L421.9,256.6 L421.9,254.8 L421.9,253 L421.8,251.2 L421.8,249.4 L421.8,247.6 L421.7,245.8 L421.7,244.1 L421.7,242.3 L421.6,240.5 L421.6,238.7 L421.6,236.9 L421.6,235.1 L421.5,233.3 L421.5,231.5 L421.5,229.7 L421.5,227.9 L421.5,226.1 L421.5,224.3 L421.6,222.5 L421.6,220.7 L421.7,218.9 L421.7,217.1 L421.8,215.3 L421.9,213.5 L422,211.7 L422.1,210 L422.3,208.2 L422.4,206.4 L422.6,204.6 L422.8,202.8 L423.1,201.1 L423.3,199.3 L423.6,197.5 L423.9,195.8 L424.2,194 L424.6,192.2 L425,190.5 L425.4,188.7 L425.8,187 L426.3,185.3 L426.7,183.5 L427.3,181.8 L427.8,180.1 L428.4,178.4 L429,176.7 L429.6,175.1 L430.2,173.4 L430.9,171.7 L431.6,170.1 L432.3,168.5 L433.1,166.9 L433.8,165.3 L434.6,163.7 L435.5,162.1 L436.3,160.6 L437.2,159 L438.1,157.5 L439.1,156 L440,154.5 L441,153 L442.1,151.6 L443.1,150.2 L444.2,148.8 L445.3,147.4 L446.4,146 L447.6,144.7 L448.8,143.3 L450,142 L451.2,140.8 L452.5,139.5 L453.7,138.3 L455,137.1 L456.4,135.9 L457.7,134.7 L459.1,133.6 L460.5,132.4 L461.9,131.3 L463.3,130.3 L464.7,129.2 L466.2,128.2 L467.7,127.2 L469.2,126.2 L470.7,125.2 L472.2,124.3 L473.8,123.4 L475.3,122.5 L476.9,121.7 L478.5,120.8 L480.1,120 L481.7,119.3 L483.4,118.5 L485,117.8 L486.7,117.1 L488.3,116.4 L490,115.8 L491.7,115.2 L493.4,114.6 L495.1,114 L496.8,113.5 L498.6,113 L500.3,112.5 L502.1,112 L503.8,111.6 L505.6,111.2 L507.3,110.9 L509.1,110.5 L510.9,110.2 L512.6,109.9 L514.4,109.7 L516.2,109.5 L518,109.3 L519.8,109.1 L521.5,109 L523.3,108.9 L525.1,108.9 L526.9,108.8 L528.7,108.8 L530.5,108.9 L532.3,108.9 L534.1,109 L535.8,109.2 L537.6,109.3 L539.4,109.5 L541.2,109.7 L542.9,110 L544.7,110.3 L546.5,110.6 L548.2,110.9 L550,111.3 L551.7,111.7 L553.5,112.1 L555.2,112.6 L556.9,113.1 L558.6,113.6 L560.3,114.1 L562,114.7 L563.7,115.3 L565.4,115.9 L567,116.6 L568.7,117.3 L570.3,118 L572,118.7 L573.6,119.5 L575.2,120.2 L576.8,121.1 L578.3,121.9 L579.9,122.8 L581.5,123.7 L583,124.6 L584.5,125.5 L586,126.5 L587.5,127.5 L589,128.5 L590.4,129.5 L591.9,130.6 L593.3,131.7 L594.7,132.8 L596.1,133.9 L597.4,135 L598.8,136.2 L600.1,137.4 L601.4,138.6 L602.7,139.9 L603.9,141.1 L605.2,142.4 L606.4,143.7 L607.6,145 L608.7,146.4 L609.9,147.7 L611,149.1 L612.1,150.5 L613.2,152 L614.2,153.4 L615.2,154.9 L616.2,156.3 L617.2,157.8 L618.1,159.4 L619,160.9 L619.9,162.5 L620.7,164 L621.6,165.6 L622.4,167.2 L623.1,168.8 L623.9,170.5 L624.6,172.1 L625.3,173.8 L625.9,175.4 L626.5,177.1 L627.1,178.8 L627.7,180.5 L628.2,182.2 L628.7,184 L629.2,185.7 L629.6,187.4 L630.1,189.2 L630.4,190.9 L630.8,192.7 L631.1,194.5 L631.4,196.2 L631.7,198 L631.9,199.8 L632.1,201.6 L632.3,203.4 L632.4,205.1 L632.5,206.9 L632.6,208.7 L632.7,210.5 L632.7,212.3 L632.7,214.1 L632.6,215.9 L632.6,217.6 L632.5,219.4 L632.3,221.2 L632.2,223 L632,224.7 L631.8,226.5 L631.5,228.3 L631.2,230 L630.9,231.8 L630.6,233.5 L630.2,235.3 L629.8,237 L629.4,238.7 L629,240.4 L628.5,242.2 L628,243.9 L627.5,245.6 L626.9,247.2 L626.3,248.9 L625.7,250.6 L625.1,252.2 L624.4,253.9 L623.7,255.5 L623,257.2 L622.3,258.8 L621.5,260.4 L620.7,262 L619.9,263.5 L619.1,265.1 L618.2,266.6 L617.3,268.2 L616.4,269.7 L615.4,271.2 L614.5,272.7 L613.5,274.2 L612.5,275.6 L611.4,277.1 L610.4,278.5 L609.3,279.9 L608.2,281.3 L607.1,282.6 L605.9,284 L604.7,285.3 L603.6,286.6 L602.3,287.9 L601.1,289.2 L599.8,290.4 L598.6,291.7 L597.3,292.9 L595.9,294 L594.6,295.2 L593.2,296.3 L591.8,297.5 L590.4,298.5 L589,299.6 L587.5,300.7 L586.1,301.7 L584.6,302.7 L583.1,303.6 L581.6,304.6 L580,305.5 L578.4,306.4 L576.9,307.2 L575.3,308 L573.6,308.8 L572,309.6 L570.3,310.3 L568.7,311.1 L567,311.7 L565.3,312.4 L563.5,313 L561.8,313.6 L560,314.1 L558.3,314.7 L556.5,315.2 L554.6,315.6" fill="none" stroke="#000" stroke-width="2.6" stroke-linejoin="round"/>
<rect x="73.5" y="11.5" width="1055.5" height="657.5" fill="none" stroke="#333" stroke-width="1.4"/>
<path d="M243.2,327.9 L269,327.9 L269,329.6 L273.8,326.1 L269,322.6 L269,324.3 L243.2,324.3 Z" fill="#000"/>
<path d="M243.2,340.8 L269,340.8 L269,342.5 L273.8,339 L269,335.5 L269,337.2 L243.2,337.2 Z" fill="#000"/>
<path d="M243.2,354.1 L269,354.1 L269,355.8 L273.8,352.3 L269,348.8 L269,350.5 L243.2,350.5 Z" fill="#000"/>
<path d="M243.2,370.1 L269,370.1 L269,371.8 L273.8,368.3 L269,364.8 L269,366.5 L243.2,366.5 Z" fill="#000"/>
<path d="M243.2,399.1 L269,399.1 L269,400.8 L273.8,397.3 L269,393.8 L269,395.5 L243.2,395.5 Z" fill="#000"/>
<path d="M243.2,413.3 L269,413.3 L269,415 L273.8,411.5 L269,408 L269,409.7 L243.2,409.7 Z" fill="#000"/>
<path d="M243.2,427.1 L269,427.1 L269,428.8 L273.8,425.3 L269,421.8 L269,423.5 L243.2,423.5 Z" fill="#000"/>
<path d="M273.5,441.5 L249.8,441.5 L249.8,439.8 L245,443.3 L249.8,446.8 L249.8,445.1 L273.5,445.1 Z" fill="#000"/>
<path d="M273.5,456 L249.8,456 L249.8,454.3 L245,457.8 L249.8,461.3 L249.8,459.6 L273.5,459.6 Z" fill="#000"/>
<path d="M273.5,470.7 L249.8,470.7 L249.8,469 L245,472.5 L249.8,476 L249.8,474.3 L273.5,474.3 Z" fill="#000"/>
<path d="M273.5,500.6 L249.8,500.6 L249.8,498.9 L245,502.4 L249.8,505.9 L249.8,504.2 L273.5,504.2 Z" fill="#000"/>
<path d="M273.5,516.4 L249.8,516.4 L249.8,514.7 L245,518.2 L249.8,521.7 L249.8,520 L273.5,520 Z" fill="#000"/>
<path d="M930.5,323.4 L956.5,323.4 L956.5,325.1 L961.3,321.6 L956.5,318.1 L956.5,319.8 L930.5,319.8 Z" fill="#000"/>
<path d="M930.5,340.4 L956.5,340.4 L956.5,342.1 L961.3,338.6 L956.5,335.1 L956.5,336.8 L930.5,336.8 Z" fill="#000"/>
<path d="M930.5,356.2 L956.5,356.2 L956.5,357.9 L961.3,354.4 L956.5,350.9 L956.5,352.6 L930.5,352.6 Z" fill="#000"/>
<path d="M930.5,371.8 L956.5,371.8 L956.5,373.5 L961.3,370 L956.5,366.5 L956.5,368.2 L930.5,368.2 Z" fill="#000"/>
<path d="M930.5,399.1 L956.5,399.1 L956.5,400.8 L961.3,397.3 L956.5,393.8 L956.5,395.5 L930.5,395.5 Z" fill="#000"/>
<path d="M930.5,414.3 L956.5,414.3 L956.5,416 L961.3,412.5 L956.5,409 L956.5,410.7 L930.5,410.7 Z" fill="#000"/>
<path d="M930.5,427.6 L956.5,427.6 L956.5,429.3 L961.3,425.8 L956.5,422.3 L956.5,424 L930.5,424 Z" fill="#000"/>
<path d="M960.5,439.4 L935.6,439.4 L935.6,437.7 L930.8,441.2 L935.6,444.7 L935.6,443 L960.5,443 Z" fill="#000"/>
<path d="M960.5,456 L935.6,456 L935.6,454.3 L930.8,457.8 L935.6,461.3 L935.6,459.6 L960.5,459.6 Z" fill="#000"/>
<path d="M960.5,471.4 L935.6,471.4 L935.6,469.7 L930.8,473.2 L935.6,476.7 L935.6,475 L960.5,475 Z" fill="#000"/>
<path d="M960.5,501.5 L935.6,501.5 L935.6,499.8 L930.8,503.3 L935.6,506.8 L935.6,505.1 L960.5,505.1 Z" fill="#000"/>
<path d="M960.5,516.4 L935.6,516.4 L935.6,514.7 L930.8,518.2 L935.6,521.7 L935.6,520 L960.5,520 Z" fill="#000"/>
<path d="M416.9,85.1 L436.1,72.4 L437.1,74 L439.5,67.6 L432.7,67.3 L433.8,68.9 L414.5,81.7 Z" fill="#000"/>
<path d="M426.8,98.3 L446,86 L447,87.6 L449.5,81.3 L442.7,80.9 L443.7,82.5 L424.6,94.7 Z" fill="#000"/>
<path d="M461.4,98.2 L442,109.4 L441.1,107.8 L438.3,114 L445.1,114.7 L444.1,113.1 L463.6,101.8 Z" fill="#000"/>
<path d="M470.4,110.7 L450.3,121.9 L449.4,120.2 L446.5,126.4 L453.3,127.2 L452.3,125.6 L472.4,114.3 Z" fill="#000"/>
<path d="M359.1,653.9 L359.1,630 L361,630 L357,625.4 L353,630 L354.9,630 L354.9,653.9 Z" fill="#000"/>
<path d="M376.1,653.9 L376.1,630 L378,630 L374,625.4 L370,630 L371.9,630 L371.9,653.9 Z" fill="#000"/>
<path d="M396.1,625.4 L396.1,650.2 L394.1,650.2 L398.2,654.8 L402.3,650.2 L400.3,650.2 L400.3,625.4 Z" fill="#000"/>
<path d="M414.9,626.1 L414.9,650.8 L413.1,650.8 L416.9,655.4 L420.7,650.8 L418.8,650.8 L418.8,626.1 Z" fill="#000"/>
<path d="M685,577.4 L667.1,591.6 L665.9,590.2 L664.1,596.7 L670.9,596.4 L669.8,595 L687.8,580.8 Z" fill="#000"/>
<rect x="830.1" y="96.8" width="268.3" height="152" fill="none" stroke="#333" stroke-width="1.2"/>
<rect x="869.9" y="129.6" width="35.8" height="22.9" fill="#ff0000"/>
<rect x="869.9" y="163.1" width="35" height="21.4" fill="#ffc000"/>
<path d="M874,204.4 L896.5,204.4 L896.5,207.7 L907,202.6 L896.5,197.5 L896.5,200.8 L874,200.8 Z" fill="#000"/>
<path d="M874,221.8 L902.5,221.8 L902.5,225 L909.8,218.9 L902.5,212.8 L902.5,216.1 L874,216.1 Z" fill="#00b050"/>
<path d="M874,237.1 L903.1,237.1 L903.1,239.9 L910.6,234 L903.1,228.1 L903.1,230.9 L874,230.9 Z" fill="#930096"/>
<text x="85.7" y="38.7" font-size="18.31" font-weight="bold" fill="#111" textLength="91.2" lengthAdjust="spacingAndGlyphs" stroke="#111" stroke-width="0.25">PERINGKAT</text>
<text x="184.8" y="38.7" font-size="18.31" font-weight="bold" fill="#111" textLength="9.6" lengthAdjust="spacingAndGlyphs" stroke="#111" stroke-width="0.25">1</text>
<text x="127.5" y="309" font-size="12.5" font-weight="bold" fill="#111" textLength="90.1" lengthAdjust="spacingAndGlyphs" stroke="#111" stroke-width="0.25">Arah Puchong</text>
<text x="429" y="209.8" font-size="11.77" font-weight="bold" fill="#111" textLength="200.9" lengthAdjust="spacingAndGlyphs" stroke="#111" stroke-width="0.25">Persimpangan Putrajaya Sentral</text>
<text x="968.2" y="358" font-size="11.19" font-weight="bold" fill="#111" textLength="118.3" lengthAdjust="spacingAndGlyphs" stroke="#111" stroke-width="0.25">Ke Puchong / Kajang</text>
<text x="466.8" y="389.7" font-size="11.77" font-weight="bold" fill="#111" textLength="159.8" lengthAdjust="spacingAndGlyphs" stroke="#111" stroke-width="0.25">Lebuhraya Pintasan Dengkil</text>
<text x="77.8" y="461.9" font-size="11.41" font-weight="bold" fill="#111" textLength="130.6" lengthAdjust="spacingAndGlyphs" stroke="#111" stroke-width="0.25">Ke Cyberjaya / Dengkil</text>
<text x="134.8" y="543" font-size="11.92" font-weight="bold" fill="#111" textLength="94.7" lengthAdjust="spacingAndGlyphs" stroke="#111" stroke-width="0.25">Arah Cyberjaya</text>
<text x="201.5" y="636.5" font-size="11.92" font-weight="bold" fill="#111" textLength="138.5" lengthAdjust="spacingAndGlyphs" stroke="#111" stroke-width="0.25">Dari Putrajaya Sentral</text>
<text x="781.5" y="559" font-size="17.44" font-weight="bold" fill="#111" textLength="118.3" lengthAdjust="spacingAndGlyphs" stroke="#111" stroke-width="0.25">Taman&#160;&#160;DeCare</text>
<text x="667.3" y="632.3" font-size="11.63" font-weight="bold" fill="#111" textLength="127.7" lengthAdjust="spacingAndGlyphs" stroke="#111" stroke-width="0.25">Ke Putrajaya Sentral</text>
<text x="868.9" y="117.8" font-size="11.77" font-weight="bold" fill="#111" textLength="50.4" lengthAdjust="spacingAndGlyphs" stroke="#111" stroke-width="0.25">LEGEND:</text>
<text x="918.2" y="148" font-size="17.26" font-weight="normal" fill="#222" textLength="118.2" lengthAdjust="spacingAndGlyphs">Penutupan Jalan</text>
<text x="916.5" y="182" font-size="17.11" font-weight="normal" fill="#222" textLength="138.5" lengthAdjust="spacingAndGlyphs">Kawasan kerja MRT</text>
<text x="919.5" y="210.5" font-size="16.49" font-weight="normal" fill="#222" textLength="120.4" lengthAdjust="spacingAndGlyphs">Laluan Sedia Ada</text>
<text x="917" y="231.1" font-size="17.11" font-weight="normal" fill="#222" textLength="118.3" lengthAdjust="spacingAndGlyphs">Laluan Alternatif</text>
<rect x="767.3" y="536.7" width="146" height="32.6" fill="none" stroke="#222" stroke-width="1.2"/>
<line x1="869.6" y1="120.5" x2="918.3" y2="120.5" stroke="#111" stroke-width="1.1"/>
</svg>
</body></html>
